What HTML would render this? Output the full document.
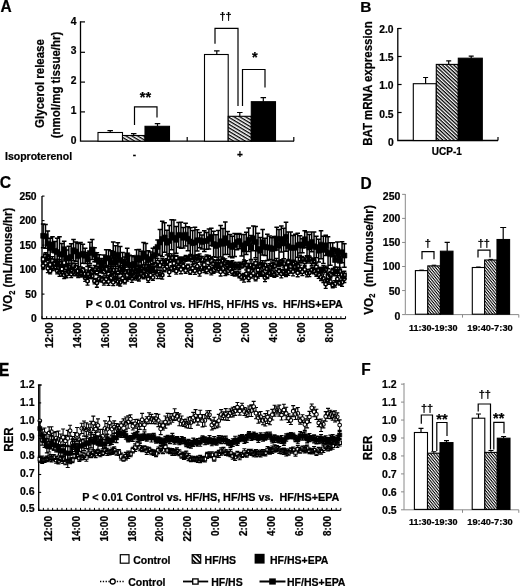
<!DOCTYPE html>
<html lang="en"><head><meta charset="utf-8"><title>Figure</title>
<style>html,body{margin:0;padding:0;background:#fff}svg{display:block;filter:grayscale(1)}text{font-family:"Liberation Sans", Arial, Helvetica, sans-serif;font-weight:bold;fill:#000;stroke:#000;stroke-width:.22px}</style>
</head><body>
<svg width="520" height="586" viewBox="0 0 520 586">
<defs><pattern id="h1" width="4" height="3" patternUnits="userSpaceOnUse" patternTransform="rotate(31)"><rect width="4" height="3" fill="#fff"/><rect width="4" height="1.35" fill="#000"/></pattern><pattern id="h4" width="4" height="3.4" patternUnits="userSpaceOnUse" patternTransform="rotate(45) translate(0 0.6)"><rect width="4" height="3.4" fill="#fff"/><rect width="4" height="1.6" fill="#000"/></pattern><pattern id="h3" width="4" height="2.6" patternUnits="userSpaceOnUse" patternTransform="rotate(43)"><rect width="4" height="2.6" fill="#fff"/><rect width="4" height="1.3" fill="#000"/></pattern><pattern id="h2" width="4" height="2.16" patternUnits="userSpaceOnUse" patternTransform="rotate(51)"><rect width="4" height="2.16" fill="#fff"/><rect width="4" height="1.05" fill="#000"/></pattern></defs>
<rect width="520" height="586" fill="#fff"/>
<text x="0" y="0" font-size="15.5" text-anchor="start" transform="translate(0.6 12) rotate(0) scale(1.0 1.12)">A</text>
<text x="360.3" y="12.2" font-size="15.5" text-anchor="start">B</text>
<text x="0" y="0" font-size="16.3" text-anchor="start" transform="translate(-0.3 188.3) rotate(0) scale(0.97 1.0)">C</text>
<text x="0" y="0" font-size="15.5" text-anchor="start" transform="translate(360.6 188.5) rotate(0) scale(1.0 1.07)">D</text>
<text x="0" y="0" font-size="15.5" text-anchor="start" transform="translate(-1 376.2) rotate(0) scale(1.0 1.14)">E</text>
<text x="0" y="0" font-size="15.5" text-anchor="start" transform="translate(361.3 375.3) rotate(0) scale(1.0 1.07)">F</text>
<path d="M80.5 21.3L80.5 141.2L294 141.2" stroke="#000" stroke-width="1.3" fill="none"/>
<path d="M80.5 111.9L85 111.9" stroke="#000" stroke-width="1.2" fill="none"/>
<path d="M80.5 82.1L85 82.1" stroke="#000" stroke-width="1.2" fill="none"/>
<path d="M80.5 52.3L85 52.3" stroke="#000" stroke-width="1.2" fill="none"/>
<path d="M80.5 21.9L85 21.9" stroke="#000" stroke-width="1.2" fill="none"/>
<text x="0" y="0" font-size="10.0" text-anchor="end" transform="translate(76.5 143.7) rotate(0) scale(1.03 1.0)">0</text>
<text x="0" y="0" font-size="10.0" text-anchor="end" transform="translate(76.5 113.95) rotate(0) scale(1.03 1.0)">1</text>
<text x="0" y="0" font-size="10.0" text-anchor="end" transform="translate(76.5 84.2) rotate(0) scale(1.03 1.0)">2</text>
<text x="0" y="0" font-size="10.0" text-anchor="end" transform="translate(76.5 54.45) rotate(0) scale(1.03 1.0)">3</text>
<text x="0" y="0" font-size="10.0" text-anchor="end" transform="translate(76.5 24.7) rotate(0) scale(1.03 1.0)">4</text>
<path d="M187.2 141.2L187.2 136.9" stroke="#000" stroke-width="1.2" fill="none"/>
<path d="M293.8 141.2L293.8 136.9" stroke="#000" stroke-width="1.2" fill="none"/>
<rect x="98" y="132.5" width="24.5" height="8.7" fill="#fff" stroke="#000" stroke-width="1.1"/>
<path d="M110.2 132.5L110.2 130.7M107.45 130.7L112.95 130.7" stroke="#000" stroke-width="1.2" fill="none"/>
<rect x="122.5" y="135.5" width="22.5" height="5.7" fill="url(#h1)" stroke="#000" stroke-width="1.1"/>
<path d="M133.7 135.5L133.7 133.7M130.95 133.7L136.45 133.7" stroke="#000" stroke-width="1.2" fill="none"/>
<rect x="145" y="126.3" width="24.5" height="14.9" fill="#000" stroke="#000" stroke-width="1.1"/>
<path d="M157.5 126.3L157.5 123.7M154.75 123.7L160.25 123.7" stroke="#000" stroke-width="1.2" fill="none"/>
<path d="M134.5 125L134.5 106.8L157 106.8L157 117.5" stroke="#000" stroke-width="1.2" fill="none"/>
<text x="145.5" y="102" font-size="14.5" text-anchor="middle">**</text>
<rect x="204.5" y="54.5" width="23.7" height="86.7" fill="#fff" stroke="#000" stroke-width="1.1"/>
<path d="M216.8 54.5L216.8 50.8M214.05 50.8L219.55 50.8" stroke="#000" stroke-width="1.2" fill="none"/>
<rect x="228.2" y="116.3" width="23.1" height="24.9" fill="url(#h1)" stroke="#000" stroke-width="1.1"/>
<path d="M239.8 116.3L239.8 112.5M237.05 112.5L242.55 112.5" stroke="#000" stroke-width="1.2" fill="none"/>
<rect x="251.3" y="101.7" width="24.2" height="39.5" fill="#000" stroke="#000" stroke-width="1.1"/>
<path d="M263.3 101.7L263.3 97.7M260.55 97.7L266.05 97.7" stroke="#000" stroke-width="1.2" fill="none"/>
<path d="M215 43.8L215 28.3L238 28.3L238 106" stroke="#000" stroke-width="1.2" fill="none"/>
<path d="M242.5 106L242.5 69.5L265 69.5L265 87.5" stroke="#000" stroke-width="1.2" fill="none"/>
<text x="225.5" y="20.3" font-size="11" text-anchor="middle">††</text>
<text x="254.8" y="62.3" font-size="14.5" text-anchor="middle">*</text>
<text x="134.5" y="158" font-size="10" text-anchor="middle">-</text>
<text x="240" y="157.7" font-size="10" text-anchor="middle">+</text>
<text x="5" y="159.5" font-size="10.5" text-anchor="start">Isoproterenol</text>
<text x="0" y="0" font-size="11.5" text-anchor="middle" transform="translate(44.2 83.5) rotate(-90) scale(1.0 1.17)">Glycerol release</text>
<text x="0" y="0" font-size="11.5" text-anchor="middle" transform="translate(59.6 85) rotate(-90) scale(1.0 1.1)">(nmol/mg tissue/hr)</text>
<path d="M397.8 28L397.8 140.5L498 140.5" stroke="#000" stroke-width="1.3" fill="none"/>
<path d="M397.8 112.5L401.6 112.5" stroke="#000" stroke-width="1.2" fill="none"/>
<path d="M397.8 84.5L401.6 84.5" stroke="#000" stroke-width="1.2" fill="none"/>
<path d="M397.8 56.5L401.6 56.5" stroke="#000" stroke-width="1.2" fill="none"/>
<path d="M397.8 28.5L401.6 28.5" stroke="#000" stroke-width="1.2" fill="none"/>
<text x="0" y="0" font-size="10.0" text-anchor="end" transform="translate(393.6 145.8) rotate(0) scale(1.03 1.0)">0</text>
<text x="0" y="0" font-size="10.0" text-anchor="end" transform="translate(393.6 117.5) rotate(0) scale(1.03 1.0)">0.5</text>
<text x="0" y="0" font-size="10.0" text-anchor="end" transform="translate(393.6 89.4) rotate(0) scale(1.03 1.0)">1.0</text>
<text x="0" y="0" font-size="10.0" text-anchor="end" transform="translate(393.6 61.2) rotate(0) scale(1.03 1.0)">1.5</text>
<text x="0" y="0" font-size="10.0" text-anchor="end" transform="translate(393.6 32.8) rotate(0) scale(1.03 1.0)">2.0</text>
<path d="M498 140.5L498 136.9" stroke="#000" stroke-width="1.2" fill="none"/>
<rect x="413.3" y="83.7" width="23" height="56.8" fill="#fff" stroke="#000" stroke-width="1.1"/>
<path d="M425.6 83.7L425.6 77.5M423.1 77.5L428.1 77.5" stroke="#000" stroke-width="1.2" fill="none"/>
<rect x="436.3" y="64.4" width="22" height="76.1" fill="url(#h3)" stroke="#000" stroke-width="1.1"/>
<path d="M448.7 64.4L448.7 60.8M446.2 60.8L451.2 60.8" stroke="#000" stroke-width="1.2" fill="none"/>
<rect x="458.3" y="58.2" width="24" height="82.3" fill="#000" stroke="#000" stroke-width="1.1"/>
<path d="M471.2 58.2L471.2 56.2M468.7 56.2L473.7 56.2" stroke="#000" stroke-width="1.2" fill="none"/>
<text x="446.8" y="154.8" font-size="10" text-anchor="middle">UCP-1</text>
<text x="0" y="0" font-size="11.5" text-anchor="middle" transform="translate(372 83.6) rotate(-90) scale(1.0 1.1)">BAT mRNA expression</text>
<path d="M42 196L42 318.6L345.55 318.6" stroke="#000" stroke-width="1.3" fill="none"/>
<path d="M42 318.6L44.5 318.6" stroke="#000" stroke-width="1.1" fill="none"/>
<text x="0" y="0" font-size="10.0" text-anchor="end" transform="translate(36.6 322.3) rotate(0) scale(1.03 1.0)">0</text>
<path d="M42 294.1L44.5 294.1" stroke="#000" stroke-width="1.1" fill="none"/>
<text x="0" y="0" font-size="10.0" text-anchor="end" transform="translate(36.6 297.8) rotate(0) scale(1.03 1.0)">50</text>
<path d="M42 269.6L44.5 269.6" stroke="#000" stroke-width="1.1" fill="none"/>
<text x="0" y="0" font-size="10.0" text-anchor="end" transform="translate(36.6 273.3) rotate(0) scale(1.03 1.0)">100</text>
<path d="M42 245.1L44.5 245.1" stroke="#000" stroke-width="1.1" fill="none"/>
<text x="0" y="0" font-size="10.0" text-anchor="end" transform="translate(36.6 248.8) rotate(0) scale(1.03 1.0)">150</text>
<path d="M42 220.6L44.5 220.6" stroke="#000" stroke-width="1.1" fill="none"/>
<text x="0" y="0" font-size="10.0" text-anchor="end" transform="translate(36.6 224.3) rotate(0) scale(1.03 1.0)">200</text>
<path d="M42 196.1L44.5 196.1" stroke="#000" stroke-width="1.1" fill="none"/>
<text x="0" y="0" font-size="10.0" text-anchor="end" transform="translate(36.6 199.8) rotate(0) scale(1.03 1.0)">250</text>
<path d="M42 318.6L42 316.2M46.67 318.6L46.67 316.2M51.34 318.6L51.34 316.2M56.01 318.6L56.01 316.2M60.68 318.6L60.68 316.2M65.35 318.6L65.35 316.2M70.02 318.6L70.02 316.2M74.69 318.6L74.69 316.2M79.36 318.6L79.36 316.2M84.03 318.6L84.03 316.2M88.7 318.6L88.7 316.2M93.37 318.6L93.37 316.2M98.04 318.6L98.04 316.2M102.71 318.6L102.71 316.2M107.38 318.6L107.38 316.2M112.05 318.6L112.05 316.2M116.72 318.6L116.72 316.2M121.39 318.6L121.39 316.2M126.06 318.6L126.06 316.2M130.73 318.6L130.73 316.2M135.4 318.6L135.4 316.2M140.07 318.6L140.07 316.2M144.74 318.6L144.74 316.2M149.41 318.6L149.41 316.2M154.08 318.6L154.08 316.2M158.75 318.6L158.75 316.2M163.42 318.6L163.42 316.2M168.09 318.6L168.09 316.2M172.76 318.6L172.76 316.2M177.43 318.6L177.43 316.2M182.1 318.6L182.1 316.2M186.77 318.6L186.77 316.2M191.44 318.6L191.44 316.2M196.11 318.6L196.11 316.2M200.78 318.6L200.78 316.2M205.45 318.6L205.45 316.2M210.12 318.6L210.12 316.2M214.79 318.6L214.79 316.2M219.46 318.6L219.46 316.2M224.13 318.6L224.13 316.2M228.8 318.6L228.8 316.2M233.47 318.6L233.47 316.2M238.14 318.6L238.14 316.2M242.81 318.6L242.81 316.2M247.48 318.6L247.48 316.2M252.15 318.6L252.15 316.2M256.82 318.6L256.82 316.2M261.49 318.6L261.49 316.2M266.16 318.6L266.16 316.2M270.83 318.6L270.83 316.2M275.5 318.6L275.5 316.2M280.17 318.6L280.17 316.2M284.84 318.6L284.84 316.2M289.51 318.6L289.51 316.2M294.18 318.6L294.18 316.2M298.85 318.6L298.85 316.2M303.52 318.6L303.52 316.2M308.19 318.6L308.19 316.2M312.86 318.6L312.86 316.2M317.53 318.6L317.53 316.2M322.2 318.6L322.2 316.2M326.87 318.6L326.87 316.2M331.54 318.6L331.54 316.2M336.21 318.6L336.21 316.2M340.88 318.6L340.88 316.2M345.55 318.6L345.55 316.2" stroke="#000" stroke-width="1.0" fill="none"/>
<text x="0" y="0" font-size="10" text-anchor="end" transform="translate(53.07 322.5) rotate(-90) scale(1.0 1.0)">12:00</text>
<text x="0" y="0" font-size="10" text-anchor="end" transform="translate(81.09 322.5) rotate(-90) scale(1.0 1.0)">14:00</text>
<text x="0" y="0" font-size="10" text-anchor="end" transform="translate(109.11 322.5) rotate(-90) scale(1.0 1.0)">16:00</text>
<text x="0" y="0" font-size="10" text-anchor="end" transform="translate(137.13 322.5) rotate(-90) scale(1.0 1.0)">18:00</text>
<text x="0" y="0" font-size="10" text-anchor="end" transform="translate(165.15 322.5) rotate(-90) scale(1.0 1.0)">20:00</text>
<text x="0" y="0" font-size="10" text-anchor="end" transform="translate(193.17 322.5) rotate(-90) scale(1.0 1.0)">22:00</text>
<text x="0" y="0" font-size="10" text-anchor="end" transform="translate(221.19 322.5) rotate(-90) scale(1.0 1.0)">0:00</text>
<text x="0" y="0" font-size="10" text-anchor="end" transform="translate(249.21 322.5) rotate(-90) scale(1.0 1.0)">2:00</text>
<text x="0" y="0" font-size="10" text-anchor="end" transform="translate(277.23 322.5) rotate(-90) scale(1.0 1.0)">4:00</text>
<text x="0" y="0" font-size="10" text-anchor="end" transform="translate(305.25 322.5) rotate(-90) scale(1.0 1.0)">6:00</text>
<text x="0" y="0" font-size="10" text-anchor="end" transform="translate(333.27 322.5) rotate(-90) scale(1.0 1.0)">8:00</text>
<text x="0" y="0" font-size="10.2" text-anchor="start" transform="translate(85.8 308) rotate(0) scale(1.058 1.0)" xml:space="preserve">P &lt; 0.01 Control vs. HF/HS, HF/HS vs.  HF/HS+EPA</text>
<text x="0" y="0" font-size="11.5" text-anchor="middle" transform="translate(12.3 259.5) rotate(-90) scale(1.0 1.12)">VO<tspan font-size="7.5" dy="2.2">2</tspan><tspan dy="-2.2"> (mL/mouse/hr)</tspan></text>
<g id="pc">
<path d="M43.17 262.5L43.17 268.76M41.17 262.5L45.17 262.5M41.17 268.76L45.17 268.76M45.5 260.68L45.5 265.85M43.5 260.68L47.5 260.68M43.5 265.85L47.5 265.85M47.84 263.97L47.84 272.57M45.84 263.97L49.84 263.97M45.84 272.57L49.84 272.57M50.17 267.94L50.17 273.9M48.17 267.94L52.17 267.94M48.17 273.9L52.17 273.9M52.51 263.44L52.51 270.57M50.51 263.44L54.51 263.44M50.51 270.57L54.51 270.57M54.84 264.29L54.84 269.92M52.84 264.29L56.84 264.29M52.84 269.92L56.84 269.92M57.18 267.91L57.18 273.91M55.18 267.91L59.18 267.91M55.18 273.91L59.18 273.91M59.51 268.16L59.51 276.46M57.51 268.16L61.51 268.16M57.51 276.46L61.51 276.46M61.85 268.19L61.85 276.02M59.85 268.19L63.85 268.19M59.85 276.02L63.85 276.02M64.18 271.63L64.18 278.72M62.18 271.63L66.18 271.63M62.18 278.72L66.18 278.72M66.52 271.1L66.52 277.73M64.52 271.1L68.52 271.1M64.52 277.73L68.52 277.73M68.85 267.44L68.85 275.05M66.85 267.44L70.85 267.44M66.85 275.05L70.85 275.05M71.19 270.21L71.19 277.68M69.19 270.21L73.19 270.21M69.19 277.68L73.19 277.68M73.52 268.02L73.52 275.89M71.52 268.02L75.52 268.02M71.52 275.89L75.52 275.89M75.86 269.17L75.86 275.77M73.86 269.17L77.86 269.17M73.86 275.77L77.86 275.77M78.19 271.03L78.19 277.49M76.19 271.03L80.19 271.03M76.19 277.49L80.19 277.49M80.53 271.26L80.53 276.98M78.53 271.26L82.53 271.26M78.53 276.98L82.53 276.98M82.86 270.28L82.86 276.75M80.86 270.28L84.86 270.28M80.86 276.75L84.86 276.75M85.2 274.2L85.2 281.47M83.2 274.2L87.2 274.2M83.2 281.47L87.2 281.47M87.53 277.05L87.53 285.05M85.53 277.05L89.53 277.05M85.53 285.05L89.53 285.05M89.87 273.3L89.87 278.37M87.87 273.3L91.87 273.3M87.87 278.37L91.87 278.37M92.2 273.32L92.2 278.73M90.2 273.32L94.2 273.32M90.2 278.73L94.2 278.73M94.54 278.38L94.54 283.78M92.54 278.38L96.54 278.38M92.54 283.78L96.54 283.78M96.87 278.48L96.87 287.25M94.87 278.48L98.87 278.48M94.87 287.25L98.87 287.25M99.21 275.74L99.21 281.6M97.21 275.74L101.21 275.74M97.21 281.6L101.21 281.6M101.54 276.77L101.54 282.15M99.54 276.77L103.54 276.77M99.54 282.15L103.54 282.15M103.88 277.63L103.88 285.22M101.88 277.63L105.88 277.63M101.88 285.22L105.88 285.22M106.21 275.14L106.21 283.06M104.21 275.14L108.21 275.14M104.21 283.06L108.21 283.06M108.55 277.45L108.55 285.47M106.55 277.45L110.55 277.45M106.55 285.47L110.55 285.47M110.88 275.48L110.88 280.4M108.88 275.48L112.88 275.48M108.88 280.4L112.88 280.4M113.22 279.03L113.22 285.61M111.22 279.03L115.22 279.03M111.22 285.61L115.22 285.61M115.55 274.22L115.55 279.93M113.55 274.22L117.55 274.22M113.55 279.93L117.55 279.93M117.89 278.26L117.89 284.98M115.89 278.26L119.89 278.26M115.89 284.98L119.89 284.98M120.22 278.24L120.22 286.17M118.22 278.24L122.22 278.24M118.22 286.17L122.22 286.17M122.56 274.14L122.56 282.14M120.56 274.14L124.56 274.14M120.56 282.14L124.56 282.14M124.89 278.31L124.89 283.79M122.89 278.31L126.89 278.31M122.89 283.79L126.89 283.79M127.23 272.92L127.23 281.02M125.23 272.92L129.23 272.92M125.23 281.02L129.23 281.02M129.56 274.45L129.56 279.31M127.56 274.45L131.56 274.45M127.56 279.31L131.56 279.31M131.9 274.02L131.9 282.31M129.9 274.02L133.9 274.02M129.9 282.31L133.9 282.31M134.23 272.8L134.23 279.95M132.23 272.8L136.23 272.8M132.23 279.95L136.23 279.95M136.57 273.51L136.57 280.14M134.57 273.51L138.57 273.51M134.57 280.14L138.57 280.14M138.9 274.05L138.9 280.98M136.9 274.05L140.9 274.05M136.9 280.98L140.9 280.98M141.24 269.56L141.24 277.56M139.24 269.56L143.24 269.56M139.24 277.56L143.24 277.56M143.57 272.07L143.57 278.95M141.57 272.07L145.57 272.07M141.57 278.95L145.57 278.95M145.91 271.63L145.91 277.53M143.91 271.63L147.91 271.63M143.91 277.53L147.91 277.53M148.24 275.7L148.24 282.28M146.24 275.7L150.24 275.7M146.24 282.28L150.24 282.28M150.58 271.45L150.58 278.38M148.58 271.45L152.58 271.45M148.58 278.38L152.58 278.38M152.91 274.57L152.91 280.41M150.91 274.57L154.91 274.57M150.91 280.41L154.91 280.41M155.25 267.35L155.25 273.92M153.25 267.35L157.25 267.35M153.25 273.92L157.25 273.92M157.58 270.26L157.58 278.65M155.58 270.26L159.58 270.26M155.58 278.65L159.58 278.65M159.92 269.88L159.92 278.55M157.92 269.88L161.92 269.88M157.92 278.55L161.92 278.55M162.25 270.98L162.25 279.11M160.25 270.98L164.25 270.98M160.25 279.11L164.25 279.11M164.59 265.69L164.59 271.76M162.59 265.69L166.59 265.69M162.59 271.76L166.59 271.76M166.92 263.78L166.92 269.9M164.92 263.78L168.92 263.78M164.92 269.9L168.92 269.9M169.26 267.63L169.26 276.32M167.26 267.63L171.26 267.63M167.26 276.32L171.26 276.32M171.59 265.59L171.59 270.91M169.59 265.59L173.59 265.59M169.59 270.91L173.59 270.91M173.93 263.07L173.93 271.55M171.93 263.07L175.93 263.07M171.93 271.55L175.93 271.55M176.26 267.7L176.26 274.2M174.26 267.7L178.26 267.7M174.26 274.2L178.26 274.2M178.6 262.24L178.6 270.46M176.6 262.24L180.6 262.24M176.6 270.46L180.6 270.46M180.93 265.23L180.93 273.74M178.93 265.23L182.93 265.23M178.93 273.74L182.93 273.74M183.27 263.33L183.27 268.77M181.27 263.33L185.27 263.33M181.27 268.77L185.27 268.77M185.6 267.51L185.6 273.47M183.6 267.51L187.6 267.51M183.6 273.47L187.6 273.47M187.94 264.2L187.94 269.06M185.94 264.2L189.94 264.2M185.94 269.06L189.94 269.06M190.27 269.19L190.27 274.41M188.27 269.19L192.27 269.19M188.27 274.41L192.27 274.41M192.61 264.73L192.61 271.56M190.61 264.73L194.61 264.73M190.61 271.56L194.61 271.56M194.94 266.98L194.94 274.32M192.94 266.98L196.94 266.98M192.94 274.32L196.94 274.32M197.28 262.43L197.28 270.2M195.28 262.43L199.28 262.43M195.28 270.2L199.28 270.2M199.61 268.58L199.61 276.06M197.61 268.58L201.61 268.58M197.61 276.06L201.61 276.06M201.95 264.14L201.95 270.72M199.95 264.14L203.95 264.14M199.95 270.72L203.95 270.72M204.28 263.95L204.28 272.61M202.28 263.95L206.28 263.95M202.28 272.61L206.28 272.61M206.62 266.76L206.62 273.57M204.62 266.76L208.62 266.76M204.62 273.57L208.62 273.57M208.95 264.42L208.95 270.82M206.95 264.42L210.95 264.42M206.95 270.82L210.95 270.82M211.29 267.96L211.29 274.87M209.29 267.96L213.29 267.96M209.29 274.87L213.29 274.87M213.62 267.18L213.62 273.28M211.62 267.18L215.62 267.18M211.62 273.28L215.62 273.28M215.96 263.9L215.96 272.04M213.96 263.9L217.96 263.9M213.96 272.04L217.96 272.04M218.29 265.31L218.29 272.2M216.29 265.31L220.29 265.31M216.29 272.2L220.29 272.2M220.63 267.64L220.63 276.01M218.63 267.64L222.63 267.64M218.63 276.01L222.63 276.01M222.96 265.32L222.96 271.56M220.96 265.32L224.96 265.32M220.96 271.56L224.96 271.56M225.3 268.09L225.3 275.61M223.3 268.09L227.3 268.09M223.3 275.61L227.3 275.61M227.63 267.76L227.63 274.71M225.63 267.76L229.63 267.76M225.63 274.71L229.63 274.71M229.97 265.67L229.97 271.53M227.97 265.67L231.97 265.67M227.97 271.53L231.97 271.53M232.3 268.9L232.3 275.23M230.3 268.9L234.3 268.9M230.3 275.23L234.3 275.23M234.64 271.03L234.64 276.14M232.64 271.03L236.64 271.03M232.64 276.14L236.64 276.14M236.97 271.07L236.97 275.92M234.97 271.07L238.97 271.07M234.97 275.92L238.97 275.92M239.31 271.81L239.31 277.77M237.31 271.81L241.31 271.81M237.31 277.77L241.31 277.77M241.64 274.49L241.64 280.09M239.64 274.49L243.64 274.49M239.64 280.09L243.64 280.09M243.98 273.36L243.98 282.03M241.98 273.36L245.98 273.36M241.98 282.03L245.98 282.03M246.31 270.15L246.31 277.28M244.31 270.15L248.31 270.15M244.31 277.28L248.31 277.28M248.65 274.69L248.65 281.52M246.65 274.69L250.65 274.69M246.65 281.52L250.65 281.52M250.98 273.25L250.98 278.15M248.98 273.25L252.98 273.25M248.98 278.15L252.98 278.15M253.32 270.13L253.32 276.3M251.32 270.13L255.32 270.13M251.32 276.3L255.32 276.3M255.65 275.6L255.65 280.88M253.65 275.6L257.65 275.6M253.65 280.88L257.65 280.88M257.99 271.69L257.99 278.07M255.99 271.69L259.99 271.69M255.99 278.07L259.99 278.07M260.32 271.42L260.32 276.41M258.32 271.42L262.32 271.42M258.32 276.41L262.32 276.41M262.66 270.45L262.66 276.31M260.66 270.45L264.66 270.45M260.66 276.31L264.66 276.31M264.99 273.59L264.99 281.63M262.99 273.59L266.99 273.59M262.99 281.63L266.99 281.63M267.33 273.58L267.33 278.58M265.33 273.58L269.33 273.58M265.33 278.58L269.33 278.58M269.66 270.19L269.66 275.19M267.66 270.19L271.66 270.19M267.66 275.19L271.66 275.19M272 268.65L272 276.41M270 268.65L274 268.65M270 276.41L274 276.41M274.33 270.97L274.33 277.35M272.33 270.97L276.33 270.97M272.33 277.35L276.33 277.35M276.67 270.65L276.67 276.33M274.67 270.65L278.67 270.65M274.67 276.33L278.67 276.33M279 268.54L279 273.7M277 268.54L281 268.54M277 273.7L281 273.7M281.34 269.54L281.34 277.89M279.34 269.54L283.34 269.54M279.34 277.89L283.34 277.89M283.67 269.13L283.67 275.28M281.67 269.13L285.67 269.13M281.67 275.28L285.67 275.28M286.01 269.33L286.01 276.65M284.01 269.33L288.01 269.33M284.01 276.65L288.01 276.65M288.34 268.78L288.34 275.36M286.34 268.78L290.34 268.78M286.34 275.36L290.34 275.36M290.68 265.36L290.68 273M288.68 265.36L292.68 265.36M288.68 273L292.68 273M293.01 267.28L293.01 275.78M291.01 267.28L295.01 267.28M291.01 275.78L295.01 275.78M295.35 266.55L295.35 271.96M293.35 266.55L297.35 266.55M293.35 271.96L297.35 271.96M297.68 268.89L297.68 276.75M295.68 268.89L299.68 268.89M295.68 276.75L299.68 276.75M300.02 265.13L300.02 273.61M298.02 265.13L302.02 265.13M298.02 273.61L302.02 273.61M302.35 268.02L302.35 275.61M300.35 268.02L304.35 268.02M300.35 275.61L304.35 275.61M304.69 266.74L304.69 272.44M302.69 266.74L306.69 266.74M302.69 272.44L306.69 272.44M307.02 269.57L307.02 276.95M305.02 269.57L309.02 269.57M305.02 276.95L309.02 276.95M309.36 269.03L309.36 276.65M307.36 269.03L311.36 269.03M307.36 276.65L311.36 276.65M311.69 266.95L311.69 272.78M309.69 266.95L313.69 266.95M309.69 272.78L313.69 272.78M314.03 267.48L314.03 273.96M312.03 267.48L316.03 267.48M312.03 273.96L316.03 273.96M316.36 270.79L316.36 276.41M314.36 270.79L318.36 270.79M314.36 276.41L318.36 276.41M318.7 270.62L318.7 278.46M316.7 270.62L320.7 270.62M316.7 278.46L320.7 278.46M321.03 274.02L321.03 280.48M319.03 274.02L323.03 274.02M319.03 280.48L323.03 280.48M323.37 273.83L323.37 282.52M321.37 273.83L325.37 273.83M321.37 282.52L325.37 282.52M325.7 279.94L325.7 288.28M323.7 279.94L327.7 279.94M323.7 288.28L327.7 288.28M328.04 275.71L328.04 284.25M326.04 275.71L330.04 275.71M326.04 284.25L330.04 284.25M330.37 278.17L330.37 284.3M328.37 278.17L332.37 278.17M328.37 284.3L332.37 284.3M332.71 282.47L332.71 287.76M330.71 282.47L334.71 282.47M330.71 287.76L334.71 287.76M335.04 280.58L335.04 287.11M333.04 280.58L337.04 280.58M333.04 287.11L337.04 287.11M337.38 275.83L337.38 282.09M335.38 275.83L339.38 275.83M335.38 282.09L339.38 282.09M339.71 280.22L339.71 285.18M337.71 280.22L341.71 280.22M337.71 285.18L341.71 285.18M342.05 277.98L342.05 286.38M340.05 277.98L344.05 277.98M340.05 286.38L344.05 286.38M344.38 274.85L344.38 282.52M342.38 274.85L346.38 274.85M342.38 282.52L346.38 282.52" stroke="#000" stroke-width="1.3" fill="none"/>
<path d="M43.17 265.63L45.5 263.26L47.84 268.27L50.17 270.92L52.51 267.01L54.84 267.1L57.18 270.91L59.51 272.31L61.85 272.11L64.18 275.17L66.52 274.42L68.85 271.24L71.19 273.95L73.52 271.95L75.86 272.47L78.19 274.26L80.53 274.12L82.86 273.51L85.2 277.83L87.53 281.05L89.87 275.84L92.2 276.02L94.54 281.08L96.87 282.86L99.21 278.67L101.54 279.46L103.88 281.43L106.21 279.1L108.55 281.46L110.88 277.94L113.22 282.32L115.55 277.08L117.89 281.62L120.22 282.21L122.56 278.14L124.89 281.05L127.23 276.97L129.56 276.88L131.9 278.16L134.23 276.38L136.57 276.82L138.9 277.52L141.24 273.56L143.57 275.51L145.91 274.58L148.24 278.99L150.58 274.92L152.91 277.49L155.25 270.63L157.58 274.45L159.92 274.22L162.25 275.05L164.59 268.73L166.92 266.84L169.26 271.98L171.59 268.25L173.93 267.31L176.26 270.95L178.6 266.35L180.93 269.49L183.27 266.05L185.6 270.49L187.94 266.63L190.27 271.8L192.61 268.14L194.94 270.65L197.28 266.31L199.61 272.32L201.95 267.43L204.28 268.28L206.62 270.16L208.95 267.62L211.29 271.41L213.62 270.23L215.96 267.97L218.29 268.76L220.63 271.82L222.96 268.44L225.3 271.85L227.63 271.24L229.97 268.6L232.3 272.07L234.64 273.59L236.97 273.5L239.31 274.79L241.64 277.29L243.98 277.69L246.31 273.72L248.65 278.11L250.98 275.7L253.32 273.21L255.65 278.24L257.99 274.88L260.32 273.91L262.66 273.38L264.99 277.61L267.33 276.08L269.66 272.69L272 272.53L274.33 274.16L276.67 273.49L279 271.12L281.34 273.71L283.67 272.2L286.01 272.99L288.34 272.07L290.68 269.18L293.01 271.53L295.35 269.26L297.68 272.82L300.02 269.37L302.35 271.82L304.69 269.59L307.02 273.26L309.36 272.84L311.69 269.87L314.03 270.72L316.36 273.6L318.7 274.54L321.03 277.25L323.37 278.18L325.7 284.11L328.04 279.98L330.37 281.23L332.71 285.11L335.04 283.84L337.38 278.96L339.71 282.7L342.05 282.18L344.38 278.69" stroke="#000" stroke-width="0.9" fill="none" stroke-dasharray="1 1.2"/>
<path d="M41.42 265.63a1.75 1.75 0 1 0 3.5 0a1.75 1.75 0 1 0 -3.5 0zM43.75 263.26a1.75 1.75 0 1 0 3.5 0a1.75 1.75 0 1 0 -3.5 0zM46.09 268.27a1.75 1.75 0 1 0 3.5 0a1.75 1.75 0 1 0 -3.5 0zM48.42 270.92a1.75 1.75 0 1 0 3.5 0a1.75 1.75 0 1 0 -3.5 0zM50.76 267.01a1.75 1.75 0 1 0 3.5 0a1.75 1.75 0 1 0 -3.5 0zM53.09 267.1a1.75 1.75 0 1 0 3.5 0a1.75 1.75 0 1 0 -3.5 0zM55.43 270.91a1.75 1.75 0 1 0 3.5 0a1.75 1.75 0 1 0 -3.5 0zM57.76 272.31a1.75 1.75 0 1 0 3.5 0a1.75 1.75 0 1 0 -3.5 0zM60.1 272.11a1.75 1.75 0 1 0 3.5 0a1.75 1.75 0 1 0 -3.5 0zM62.43 275.17a1.75 1.75 0 1 0 3.5 0a1.75 1.75 0 1 0 -3.5 0zM64.77 274.42a1.75 1.75 0 1 0 3.5 0a1.75 1.75 0 1 0 -3.5 0zM67.1 271.24a1.75 1.75 0 1 0 3.5 0a1.75 1.75 0 1 0 -3.5 0zM69.44 273.95a1.75 1.75 0 1 0 3.5 0a1.75 1.75 0 1 0 -3.5 0zM71.77 271.95a1.75 1.75 0 1 0 3.5 0a1.75 1.75 0 1 0 -3.5 0zM74.11 272.47a1.75 1.75 0 1 0 3.5 0a1.75 1.75 0 1 0 -3.5 0zM76.44 274.26a1.75 1.75 0 1 0 3.5 0a1.75 1.75 0 1 0 -3.5 0zM78.78 274.12a1.75 1.75 0 1 0 3.5 0a1.75 1.75 0 1 0 -3.5 0zM81.11 273.51a1.75 1.75 0 1 0 3.5 0a1.75 1.75 0 1 0 -3.5 0zM83.45 277.83a1.75 1.75 0 1 0 3.5 0a1.75 1.75 0 1 0 -3.5 0zM85.78 281.05a1.75 1.75 0 1 0 3.5 0a1.75 1.75 0 1 0 -3.5 0zM88.12 275.84a1.75 1.75 0 1 0 3.5 0a1.75 1.75 0 1 0 -3.5 0zM90.45 276.02a1.75 1.75 0 1 0 3.5 0a1.75 1.75 0 1 0 -3.5 0zM92.79 281.08a1.75 1.75 0 1 0 3.5 0a1.75 1.75 0 1 0 -3.5 0zM95.12 282.86a1.75 1.75 0 1 0 3.5 0a1.75 1.75 0 1 0 -3.5 0zM97.46 278.67a1.75 1.75 0 1 0 3.5 0a1.75 1.75 0 1 0 -3.5 0zM99.79 279.46a1.75 1.75 0 1 0 3.5 0a1.75 1.75 0 1 0 -3.5 0zM102.13 281.43a1.75 1.75 0 1 0 3.5 0a1.75 1.75 0 1 0 -3.5 0zM104.46 279.1a1.75 1.75 0 1 0 3.5 0a1.75 1.75 0 1 0 -3.5 0zM106.8 281.46a1.75 1.75 0 1 0 3.5 0a1.75 1.75 0 1 0 -3.5 0zM109.13 277.94a1.75 1.75 0 1 0 3.5 0a1.75 1.75 0 1 0 -3.5 0zM111.47 282.32a1.75 1.75 0 1 0 3.5 0a1.75 1.75 0 1 0 -3.5 0zM113.8 277.08a1.75 1.75 0 1 0 3.5 0a1.75 1.75 0 1 0 -3.5 0zM116.14 281.62a1.75 1.75 0 1 0 3.5 0a1.75 1.75 0 1 0 -3.5 0zM118.47 282.21a1.75 1.75 0 1 0 3.5 0a1.75 1.75 0 1 0 -3.5 0zM120.81 278.14a1.75 1.75 0 1 0 3.5 0a1.75 1.75 0 1 0 -3.5 0zM123.14 281.05a1.75 1.75 0 1 0 3.5 0a1.75 1.75 0 1 0 -3.5 0zM125.48 276.97a1.75 1.75 0 1 0 3.5 0a1.75 1.75 0 1 0 -3.5 0zM127.81 276.88a1.75 1.75 0 1 0 3.5 0a1.75 1.75 0 1 0 -3.5 0zM130.15 278.16a1.75 1.75 0 1 0 3.5 0a1.75 1.75 0 1 0 -3.5 0zM132.48 276.38a1.75 1.75 0 1 0 3.5 0a1.75 1.75 0 1 0 -3.5 0zM134.82 276.82a1.75 1.75 0 1 0 3.5 0a1.75 1.75 0 1 0 -3.5 0zM137.15 277.52a1.75 1.75 0 1 0 3.5 0a1.75 1.75 0 1 0 -3.5 0zM139.49 273.56a1.75 1.75 0 1 0 3.5 0a1.75 1.75 0 1 0 -3.5 0zM141.82 275.51a1.75 1.75 0 1 0 3.5 0a1.75 1.75 0 1 0 -3.5 0zM144.16 274.58a1.75 1.75 0 1 0 3.5 0a1.75 1.75 0 1 0 -3.5 0zM146.49 278.99a1.75 1.75 0 1 0 3.5 0a1.75 1.75 0 1 0 -3.5 0zM148.83 274.92a1.75 1.75 0 1 0 3.5 0a1.75 1.75 0 1 0 -3.5 0zM151.16 277.49a1.75 1.75 0 1 0 3.5 0a1.75 1.75 0 1 0 -3.5 0zM153.5 270.63a1.75 1.75 0 1 0 3.5 0a1.75 1.75 0 1 0 -3.5 0zM155.83 274.45a1.75 1.75 0 1 0 3.5 0a1.75 1.75 0 1 0 -3.5 0zM158.17 274.22a1.75 1.75 0 1 0 3.5 0a1.75 1.75 0 1 0 -3.5 0zM160.5 275.05a1.75 1.75 0 1 0 3.5 0a1.75 1.75 0 1 0 -3.5 0zM162.84 268.73a1.75 1.75 0 1 0 3.5 0a1.75 1.75 0 1 0 -3.5 0zM165.17 266.84a1.75 1.75 0 1 0 3.5 0a1.75 1.75 0 1 0 -3.5 0zM167.51 271.98a1.75 1.75 0 1 0 3.5 0a1.75 1.75 0 1 0 -3.5 0zM169.84 268.25a1.75 1.75 0 1 0 3.5 0a1.75 1.75 0 1 0 -3.5 0zM172.18 267.31a1.75 1.75 0 1 0 3.5 0a1.75 1.75 0 1 0 -3.5 0zM174.51 270.95a1.75 1.75 0 1 0 3.5 0a1.75 1.75 0 1 0 -3.5 0zM176.85 266.35a1.75 1.75 0 1 0 3.5 0a1.75 1.75 0 1 0 -3.5 0zM179.18 269.49a1.75 1.75 0 1 0 3.5 0a1.75 1.75 0 1 0 -3.5 0zM181.52 266.05a1.75 1.75 0 1 0 3.5 0a1.75 1.75 0 1 0 -3.5 0zM183.85 270.49a1.75 1.75 0 1 0 3.5 0a1.75 1.75 0 1 0 -3.5 0zM186.19 266.63a1.75 1.75 0 1 0 3.5 0a1.75 1.75 0 1 0 -3.5 0zM188.52 271.8a1.75 1.75 0 1 0 3.5 0a1.75 1.75 0 1 0 -3.5 0zM190.86 268.14a1.75 1.75 0 1 0 3.5 0a1.75 1.75 0 1 0 -3.5 0zM193.19 270.65a1.75 1.75 0 1 0 3.5 0a1.75 1.75 0 1 0 -3.5 0zM195.53 266.31a1.75 1.75 0 1 0 3.5 0a1.75 1.75 0 1 0 -3.5 0zM197.86 272.32a1.75 1.75 0 1 0 3.5 0a1.75 1.75 0 1 0 -3.5 0zM200.2 267.43a1.75 1.75 0 1 0 3.5 0a1.75 1.75 0 1 0 -3.5 0zM202.53 268.28a1.75 1.75 0 1 0 3.5 0a1.75 1.75 0 1 0 -3.5 0zM204.87 270.16a1.75 1.75 0 1 0 3.5 0a1.75 1.75 0 1 0 -3.5 0zM207.2 267.62a1.75 1.75 0 1 0 3.5 0a1.75 1.75 0 1 0 -3.5 0zM209.54 271.41a1.75 1.75 0 1 0 3.5 0a1.75 1.75 0 1 0 -3.5 0zM211.87 270.23a1.75 1.75 0 1 0 3.5 0a1.75 1.75 0 1 0 -3.5 0zM214.21 267.97a1.75 1.75 0 1 0 3.5 0a1.75 1.75 0 1 0 -3.5 0zM216.54 268.76a1.75 1.75 0 1 0 3.5 0a1.75 1.75 0 1 0 -3.5 0zM218.88 271.82a1.75 1.75 0 1 0 3.5 0a1.75 1.75 0 1 0 -3.5 0zM221.21 268.44a1.75 1.75 0 1 0 3.5 0a1.75 1.75 0 1 0 -3.5 0zM223.55 271.85a1.75 1.75 0 1 0 3.5 0a1.75 1.75 0 1 0 -3.5 0zM225.88 271.24a1.75 1.75 0 1 0 3.5 0a1.75 1.75 0 1 0 -3.5 0zM228.22 268.6a1.75 1.75 0 1 0 3.5 0a1.75 1.75 0 1 0 -3.5 0zM230.55 272.07a1.75 1.75 0 1 0 3.5 0a1.75 1.75 0 1 0 -3.5 0zM232.89 273.59a1.75 1.75 0 1 0 3.5 0a1.75 1.75 0 1 0 -3.5 0zM235.22 273.5a1.75 1.75 0 1 0 3.5 0a1.75 1.75 0 1 0 -3.5 0zM237.56 274.79a1.75 1.75 0 1 0 3.5 0a1.75 1.75 0 1 0 -3.5 0zM239.89 277.29a1.75 1.75 0 1 0 3.5 0a1.75 1.75 0 1 0 -3.5 0zM242.23 277.69a1.75 1.75 0 1 0 3.5 0a1.75 1.75 0 1 0 -3.5 0zM244.56 273.72a1.75 1.75 0 1 0 3.5 0a1.75 1.75 0 1 0 -3.5 0zM246.9 278.11a1.75 1.75 0 1 0 3.5 0a1.75 1.75 0 1 0 -3.5 0zM249.23 275.7a1.75 1.75 0 1 0 3.5 0a1.75 1.75 0 1 0 -3.5 0zM251.57 273.21a1.75 1.75 0 1 0 3.5 0a1.75 1.75 0 1 0 -3.5 0zM253.9 278.24a1.75 1.75 0 1 0 3.5 0a1.75 1.75 0 1 0 -3.5 0zM256.24 274.88a1.75 1.75 0 1 0 3.5 0a1.75 1.75 0 1 0 -3.5 0zM258.57 273.91a1.75 1.75 0 1 0 3.5 0a1.75 1.75 0 1 0 -3.5 0zM260.91 273.38a1.75 1.75 0 1 0 3.5 0a1.75 1.75 0 1 0 -3.5 0zM263.24 277.61a1.75 1.75 0 1 0 3.5 0a1.75 1.75 0 1 0 -3.5 0zM265.58 276.08a1.75 1.75 0 1 0 3.5 0a1.75 1.75 0 1 0 -3.5 0zM267.91 272.69a1.75 1.75 0 1 0 3.5 0a1.75 1.75 0 1 0 -3.5 0zM270.25 272.53a1.75 1.75 0 1 0 3.5 0a1.75 1.75 0 1 0 -3.5 0zM272.58 274.16a1.75 1.75 0 1 0 3.5 0a1.75 1.75 0 1 0 -3.5 0zM274.92 273.49a1.75 1.75 0 1 0 3.5 0a1.75 1.75 0 1 0 -3.5 0zM277.25 271.12a1.75 1.75 0 1 0 3.5 0a1.75 1.75 0 1 0 -3.5 0zM279.59 273.71a1.75 1.75 0 1 0 3.5 0a1.75 1.75 0 1 0 -3.5 0zM281.92 272.2a1.75 1.75 0 1 0 3.5 0a1.75 1.75 0 1 0 -3.5 0zM284.26 272.99a1.75 1.75 0 1 0 3.5 0a1.75 1.75 0 1 0 -3.5 0zM286.59 272.07a1.75 1.75 0 1 0 3.5 0a1.75 1.75 0 1 0 -3.5 0zM288.93 269.18a1.75 1.75 0 1 0 3.5 0a1.75 1.75 0 1 0 -3.5 0zM291.26 271.53a1.75 1.75 0 1 0 3.5 0a1.75 1.75 0 1 0 -3.5 0zM293.6 269.26a1.75 1.75 0 1 0 3.5 0a1.75 1.75 0 1 0 -3.5 0zM295.93 272.82a1.75 1.75 0 1 0 3.5 0a1.75 1.75 0 1 0 -3.5 0zM298.27 269.37a1.75 1.75 0 1 0 3.5 0a1.75 1.75 0 1 0 -3.5 0zM300.6 271.82a1.75 1.75 0 1 0 3.5 0a1.75 1.75 0 1 0 -3.5 0zM302.94 269.59a1.75 1.75 0 1 0 3.5 0a1.75 1.75 0 1 0 -3.5 0zM305.27 273.26a1.75 1.75 0 1 0 3.5 0a1.75 1.75 0 1 0 -3.5 0zM307.61 272.84a1.75 1.75 0 1 0 3.5 0a1.75 1.75 0 1 0 -3.5 0zM309.94 269.87a1.75 1.75 0 1 0 3.5 0a1.75 1.75 0 1 0 -3.5 0zM312.28 270.72a1.75 1.75 0 1 0 3.5 0a1.75 1.75 0 1 0 -3.5 0zM314.61 273.6a1.75 1.75 0 1 0 3.5 0a1.75 1.75 0 1 0 -3.5 0zM316.95 274.54a1.75 1.75 0 1 0 3.5 0a1.75 1.75 0 1 0 -3.5 0zM319.28 277.25a1.75 1.75 0 1 0 3.5 0a1.75 1.75 0 1 0 -3.5 0zM321.62 278.18a1.75 1.75 0 1 0 3.5 0a1.75 1.75 0 1 0 -3.5 0zM323.95 284.11a1.75 1.75 0 1 0 3.5 0a1.75 1.75 0 1 0 -3.5 0zM326.29 279.98a1.75 1.75 0 1 0 3.5 0a1.75 1.75 0 1 0 -3.5 0zM328.62 281.23a1.75 1.75 0 1 0 3.5 0a1.75 1.75 0 1 0 -3.5 0zM330.96 285.11a1.75 1.75 0 1 0 3.5 0a1.75 1.75 0 1 0 -3.5 0zM333.29 283.84a1.75 1.75 0 1 0 3.5 0a1.75 1.75 0 1 0 -3.5 0zM335.63 278.96a1.75 1.75 0 1 0 3.5 0a1.75 1.75 0 1 0 -3.5 0zM337.96 282.7a1.75 1.75 0 1 0 3.5 0a1.75 1.75 0 1 0 -3.5 0zM340.3 282.18a1.75 1.75 0 1 0 3.5 0a1.75 1.75 0 1 0 -3.5 0zM342.63 278.69a1.75 1.75 0 1 0 3.5 0a1.75 1.75 0 1 0 -3.5 0z" stroke="#000" stroke-width="1.55" fill="#fff"/>
<path d="M43.17 256.71L43.17 261.8M41.17 256.71L45.17 256.71M41.17 261.8L45.17 261.8M45.5 252.56L45.5 259.1M43.5 252.56L47.5 252.56M43.5 259.1L47.5 259.1M47.84 254.6L47.84 260.29M45.84 254.6L49.84 254.6M45.84 260.29L49.84 260.29M50.17 262.07L50.17 267.06M48.17 262.07L52.17 262.07M48.17 267.06L52.17 267.06M52.51 256.7L52.51 264.76M50.51 256.7L54.51 256.7M50.51 264.76L54.51 264.76M54.84 260.89L54.84 265.94M52.84 260.89L56.84 260.89M52.84 265.94L56.84 265.94M57.18 259.13L57.18 266.28M55.18 259.13L59.18 259.13M55.18 266.28L59.18 266.28M59.51 259.53L59.51 266.63M57.51 259.53L61.51 259.53M57.51 266.63L61.51 266.63M61.85 266.32L61.85 271.59M59.85 266.32L63.85 266.32M59.85 271.59L63.85 271.59M64.18 259.02L64.18 266.49M62.18 259.02L66.18 259.02M62.18 266.49L66.18 266.49M66.52 264.46L66.52 271.64M64.52 264.46L68.52 264.46M64.52 271.64L68.52 271.64M68.85 263.29L68.85 270.75M66.85 263.29L70.85 263.29M66.85 270.75L70.85 270.75M71.19 266.92L71.19 272.86M69.19 266.92L73.19 266.92M69.19 272.86L73.19 272.86M73.52 262.91L73.52 268.17M71.52 262.91L75.52 262.91M71.52 268.17L75.52 268.17M75.86 263.36L75.86 271.65M73.86 263.36L77.86 263.36M73.86 271.65L77.86 271.65M78.19 266.82L78.19 275.08M76.19 266.82L80.19 266.82M76.19 275.08L80.19 275.08M80.53 269.84L80.53 275.25M78.53 269.84L82.53 269.84M78.53 275.25L82.53 275.25M82.86 267.6L82.86 273.45M80.86 267.6L84.86 267.6M80.86 273.45L84.86 273.45M85.2 270L85.2 277.56M83.2 270L87.2 270M83.2 277.56L87.2 277.56M87.53 270.07L87.53 277.99M85.53 270.07L89.53 270.07M85.53 277.99L89.53 277.99M89.87 265.27L89.87 272.6M87.87 265.27L91.87 265.27M87.87 272.6L91.87 272.6M92.2 268.77L92.2 273.78M90.2 268.77L94.2 268.77M90.2 273.78L94.2 273.78M94.54 265.49L94.54 273.79M92.54 265.49L96.54 265.49M92.54 273.79L96.54 273.79M96.87 269.53L96.87 274.82M94.87 269.53L98.87 269.53M94.87 274.82L98.87 274.82M99.21 267.02L99.21 272.23M97.21 267.02L101.21 267.02M97.21 272.23L101.21 272.23M101.54 264.32L101.54 272.93M99.54 264.32L103.54 264.32M99.54 272.93L103.54 272.93M103.88 267.45L103.88 276.17M101.88 267.45L105.88 267.45M101.88 276.17L105.88 276.17M106.21 265.32L106.21 273.21M104.21 265.32L108.21 265.32M104.21 273.21L108.21 273.21M108.55 269.59L108.55 278.33M106.55 269.59L110.55 269.59M106.55 278.33L110.55 278.33M110.88 266.37L110.88 273.24M108.88 266.37L112.88 266.37M108.88 273.24L112.88 273.24M113.22 266.31L113.22 273.88M111.22 266.31L115.22 266.31M111.22 273.88L115.22 273.88M115.55 272.04L115.55 278.29M113.55 272.04L117.55 272.04M113.55 278.29L117.55 278.29M117.89 268.66L117.89 277.06M115.89 268.66L119.89 268.66M115.89 277.06L119.89 277.06M120.22 265.35L120.22 272.79M118.22 265.35L122.22 265.35M118.22 272.79L122.22 272.79M122.56 265.85L122.56 273.81M120.56 265.85L124.56 265.85M120.56 273.81L124.56 273.81M124.89 267.23L124.89 275.82M122.89 267.23L126.89 267.23M122.89 275.82L126.89 275.82M127.23 271.22L127.23 279.25M125.23 271.22L129.23 271.22M125.23 279.25L129.23 279.25M129.56 267.76L129.56 274.76M127.56 267.76L131.56 267.76M127.56 274.76L131.56 274.76M131.9 267.36L131.9 275.9M129.9 267.36L133.9 267.36M129.9 275.9L133.9 275.9M134.23 266.27L134.23 272.24M132.23 266.27L136.23 266.27M132.23 272.24L136.23 272.24M136.57 263.8L136.57 272.24M134.57 263.8L138.57 263.8M134.57 272.24L138.57 272.24M138.9 265.5L138.9 273.97M136.9 265.5L140.9 265.5M136.9 273.97L140.9 273.97M141.24 266.74L141.24 272.27M139.24 266.74L143.24 266.74M139.24 272.27L143.24 272.27M143.57 267.67L143.57 274.7M141.57 267.67L145.57 267.67M141.57 274.7L145.57 274.7M145.91 262.83L145.91 269.88M143.91 262.83L147.91 262.83M143.91 269.88L147.91 269.88M148.24 265.34L148.24 273.18M146.24 265.34L150.24 265.34M146.24 273.18L150.24 273.18M150.58 264.36L150.58 271.93M148.58 264.36L152.58 264.36M148.58 271.93L152.58 271.93M152.91 264.39L152.91 272.7M150.91 264.39L154.91 264.39M150.91 272.7L154.91 272.7M155.25 265.93L155.25 271.28M153.25 265.93L157.25 265.93M153.25 271.28L157.25 271.28M157.58 258.4L157.58 265.87M155.58 258.4L159.58 258.4M155.58 265.87L159.58 265.87M159.92 262.73L159.92 268.1M157.92 262.73L161.92 262.73M157.92 268.1L161.92 268.1M162.25 258.62L162.25 265.36M160.25 258.62L164.25 258.62M160.25 265.36L164.25 265.36M164.59 259.15L164.59 265.31M162.59 259.15L166.59 259.15M162.59 265.31L166.59 265.31M166.92 258.62L166.92 265.18M164.92 258.62L168.92 258.62M164.92 265.18L168.92 265.18M169.26 253.59L169.26 262.33M167.26 253.59L171.26 253.59M167.26 262.33L171.26 262.33M171.59 253.83L171.59 261.74M169.59 253.83L173.59 253.83M169.59 261.74L173.59 261.74M173.93 260.41L173.93 266.25M171.93 260.41L175.93 260.41M171.93 266.25L175.93 266.25M176.26 255.32L176.26 260.35M174.26 255.32L178.26 255.32M174.26 260.35L178.26 260.35M178.6 257.51L178.6 265.52M176.6 257.51L180.6 257.51M176.6 265.52L180.6 265.52M180.93 256.89L180.93 263.05M178.93 256.89L182.93 256.89M178.93 263.05L182.93 263.05M183.27 257.38L183.27 263.13M181.27 257.38L185.27 257.38M181.27 263.13L185.27 263.13M185.6 255.45L185.6 261.47M183.6 255.45L187.6 255.45M183.6 261.47L187.6 261.47M187.94 256.09L187.94 260.96M185.94 256.09L189.94 256.09M185.94 260.96L189.94 260.96M190.27 254.28L190.27 260.98M188.27 254.28L192.27 254.28M188.27 260.98L192.27 260.98M192.61 256.01L192.61 264.15M190.61 256.01L194.61 256.01M190.61 264.15L194.61 264.15M194.94 255.16L194.94 263.29M192.94 255.16L196.94 255.16M192.94 263.29L196.94 263.29M197.28 254.74L197.28 260.06M195.28 254.74L199.28 254.74M195.28 260.06L199.28 260.06M199.61 253.78L199.61 261.94M197.61 253.78L201.61 253.78M197.61 261.94L201.61 261.94M201.95 256.29L201.95 262.92M199.95 256.29L203.95 256.29M199.95 262.92L203.95 262.92M204.28 261.23L204.28 268.22M202.28 261.23L206.28 261.23M202.28 268.22L206.28 268.22M206.62 254.79L206.62 261.12M204.62 254.79L208.62 254.79M204.62 261.12L208.62 261.12M208.95 255.28L208.95 261.14M206.95 255.28L210.95 255.28M206.95 261.14L210.95 261.14M211.29 257.72L211.29 263.45M209.29 257.72L213.29 257.72M209.29 263.45L213.29 263.45M213.62 259.62L213.62 267.94M211.62 259.62L215.62 259.62M211.62 267.94L215.62 267.94M215.96 260.38L215.96 267.75M213.96 260.38L217.96 260.38M213.96 267.75L217.96 267.75M218.29 260.21L218.29 268.26M216.29 260.21L220.29 260.21M216.29 268.26L220.29 268.26M220.63 260.56L220.63 268.66M218.63 260.56L222.63 260.56M218.63 268.66L222.63 268.66M222.96 257.87L222.96 262.8M220.96 257.87L224.96 257.87M220.96 262.8L224.96 262.8M225.3 258.91L225.3 266.22M223.3 258.91L227.3 258.91M223.3 266.22L227.3 266.22M227.63 260.66L227.63 268.45M225.63 260.66L229.63 260.66M225.63 268.45L229.63 268.45M229.97 261.66L229.97 267.47M227.97 261.66L231.97 261.66M227.97 267.47L231.97 267.47M232.3 260.69L232.3 269.39M230.3 260.69L234.3 260.69M230.3 269.39L234.3 269.39M234.64 262.05L234.64 269.32M232.64 262.05L236.64 262.05M232.64 269.32L236.64 269.32M236.97 262.95L236.97 268.97M234.97 262.95L238.97 262.95M234.97 268.97L238.97 268.97M239.31 262.18L239.31 269.75M237.31 262.18L241.31 262.18M237.31 269.75L241.31 269.75M241.64 262.78L241.64 268.05M239.64 262.78L243.64 262.78M239.64 268.05L243.64 268.05M243.98 259.8L243.98 266.43M241.98 259.8L245.98 259.8M241.98 266.43L245.98 266.43M246.31 260.62L246.31 269.2M244.31 260.62L248.31 260.62M244.31 269.2L248.31 269.2M248.65 267.59L248.65 272.92M246.65 267.59L250.65 267.59M246.65 272.92L250.65 272.92M250.98 260.87L250.98 269.26M248.98 260.87L252.98 260.87M248.98 269.26L252.98 269.26M253.32 263.64L253.32 269.65M251.32 263.64L255.32 263.64M251.32 269.65L255.32 269.65M255.65 259.51L255.65 267.31M253.65 259.51L257.65 259.51M253.65 267.31L257.65 267.31M257.99 266.91L257.99 272.87M255.99 266.91L259.99 266.91M255.99 272.87L259.99 272.87M260.32 262.47L260.32 268.98M258.32 262.47L262.32 262.47M258.32 268.98L262.32 268.98M262.66 260.57L262.66 269.11M260.66 260.57L264.66 260.57M260.66 269.11L264.66 269.11M264.99 260.82L264.99 269.44M262.99 260.82L266.99 260.82M262.99 269.44L266.99 269.44M267.33 265.37L267.33 272.37M265.33 265.37L269.33 265.37M265.33 272.37L269.33 272.37M269.66 263.56L269.66 270.94M267.66 263.56L271.66 263.56M267.66 270.94L271.66 270.94M272 261.9L272 268.07M270 261.9L274 261.9M270 268.07L274 268.07M274.33 263.07L274.33 269.07M272.33 263.07L276.33 263.07M272.33 269.07L276.33 269.07M276.67 258.39L276.67 266.82M274.67 258.39L278.67 258.39M274.67 266.82L278.67 266.82M279 261.49L279 266.85M277 261.49L281 261.49M277 266.85L281 266.85M281.34 259.62L281.34 265.45M279.34 259.62L283.34 259.62M279.34 265.45L283.34 265.45M283.67 260.22L283.67 267.12M281.67 260.22L285.67 260.22M281.67 267.12L285.67 267.12M286.01 264.88L286.01 270.19M284.01 264.88L288.01 264.88M284.01 270.19L288.01 270.19M288.34 259.45L288.34 265.24M286.34 259.45L290.34 259.45M286.34 265.24L290.34 265.24M290.68 263.99L290.68 268.88M288.68 263.99L292.68 263.99M288.68 268.88L292.68 268.88M293.01 261.74L293.01 266.54M291.01 261.74L295.01 261.74M291.01 266.54L295.01 266.54M295.35 263.77L295.35 269.57M293.35 263.77L297.35 263.77M293.35 269.57L297.35 269.57M297.68 262.3L297.68 269.99M295.68 262.3L299.68 262.3M295.68 269.99L299.68 269.99M300.02 255.22L300.02 263.15M298.02 255.22L302.02 255.22M298.02 263.15L302.02 263.15M302.35 256.45L302.35 262.26M300.35 256.45L304.35 256.45M300.35 262.26L304.35 262.26M304.69 258.21L304.69 265.34M302.69 258.21L306.69 258.21M302.69 265.34L306.69 265.34M307.02 256.41L307.02 263.05M305.02 256.41L309.02 256.41M305.02 263.05L309.02 263.05M309.36 255.92L309.36 261.7M307.36 255.92L311.36 255.92M307.36 261.7L311.36 261.7M311.69 257.88L311.69 265.38M309.69 257.88L313.69 257.88M309.69 265.38L313.69 265.38M314.03 258.65L314.03 263.58M312.03 258.65L316.03 258.65M312.03 263.58L316.03 263.58M316.36 263.02L316.36 270.78M314.36 263.02L318.36 263.02M314.36 270.78L318.36 270.78M318.7 267.19L318.7 272.91M316.7 267.19L320.7 267.19M316.7 272.91L320.7 272.91M321.03 267.64L321.03 273.19M319.03 267.64L323.03 267.64M319.03 273.19L323.03 273.19M323.37 265.71L323.37 272.08M321.37 265.71L325.37 265.71M321.37 272.08L325.37 272.08M325.7 266.09L325.7 272.46M323.7 266.09L327.7 266.09M323.7 272.46L327.7 272.46M328.04 273.49L328.04 279.61M326.04 273.49L330.04 273.49M326.04 279.61L330.04 279.61M330.37 271.37L330.37 277.68M328.37 271.37L332.37 271.37M328.37 277.68L332.37 277.68M332.71 268.34L332.71 274.55M330.71 268.34L334.71 268.34M330.71 274.55L334.71 274.55M335.04 267.65L335.04 275.74M333.04 267.65L337.04 267.65M333.04 275.74L337.04 275.74M337.38 267.21L337.38 275.69M335.38 267.21L339.38 267.21M335.38 275.69L339.38 275.69M339.71 267.32L339.71 275.36M337.71 267.32L341.71 267.32M337.71 275.36L341.71 275.36M342.05 271.71L342.05 277.54M340.05 271.71L344.05 271.71M340.05 277.54L344.05 277.54M344.38 271.26L344.38 278.53M342.38 271.26L346.38 271.26M342.38 278.53L346.38 278.53" stroke="#000" stroke-width="1.3" fill="none"/>
<path d="M43.17 259.26L45.5 255.83L47.84 257.44L50.17 264.57L52.51 260.73L54.84 263.42L57.18 262.71L59.51 263.08L61.85 268.95L64.18 262.75L66.52 268.05L68.85 267.02L71.19 269.89L73.52 265.54L75.86 267.51L78.19 270.95L80.53 272.55L82.86 270.53L85.2 273.78L87.53 274.03L89.87 268.93L92.2 271.27L94.54 269.64L96.87 272.17L99.21 269.62L101.54 268.62L103.88 271.81L106.21 269.27L108.55 273.96L110.88 269.81L113.22 270.1L115.55 275.17L117.89 272.86L120.22 269.07L122.56 269.83L124.89 271.52L127.23 275.23L129.56 271.26L131.9 271.63L134.23 269.26L136.57 268.02L138.9 269.73L141.24 269.5L143.57 271.18L145.91 266.36L148.24 269.26L150.58 268.15L152.91 268.54L155.25 268.61L157.58 262.14L159.92 265.41L162.25 261.99L164.59 262.23L166.92 261.9L169.26 257.96L171.59 257.79L173.93 263.33L176.26 257.84L178.6 261.52L180.93 259.97L183.27 260.26L185.6 258.46L187.94 258.52L190.27 257.63L192.61 260.08L194.94 259.23L197.28 257.4L199.61 257.86L201.95 259.6L204.28 264.72L206.62 257.95L208.95 258.21L211.29 260.59L213.62 263.78L215.96 264.06L218.29 264.24L220.63 264.61L222.96 260.33L225.3 262.56L227.63 264.56L229.97 264.57L232.3 265.04L234.64 265.68L236.97 265.96L239.31 265.96L241.64 265.41L243.98 263.12L246.31 264.91L248.65 270.26L250.98 265.07L253.32 266.65L255.65 263.41L257.99 269.89L260.32 265.73L262.66 264.84L264.99 265.13L267.33 268.87L269.66 267.25L272 264.99L274.33 266.07L276.67 262.6L279 264.17L281.34 262.53L283.67 263.67L286.01 267.53L288.34 262.34L290.68 266.44L293.01 264.14L295.35 266.67L297.68 266.14L300.02 259.18L302.35 259.36L304.69 261.77L307.02 259.73L309.36 258.81L311.69 261.63L314.03 261.12L316.36 266.9L318.7 270.05L321.03 270.41L323.37 268.9L325.7 269.28L328.04 276.55L330.37 274.52L332.71 271.45L335.04 271.69L337.38 271.45L339.71 271.34L342.05 274.62L344.38 274.9" stroke="#000" stroke-width="1.3" fill="none"/>
<path d="M41.47 257.56h3.4v3.4h-3.4zM43.8 254.13h3.4v3.4h-3.4zM46.14 255.74h3.4v3.4h-3.4zM48.47 262.87h3.4v3.4h-3.4zM50.81 259.03h3.4v3.4h-3.4zM53.14 261.72h3.4v3.4h-3.4zM55.48 261.01h3.4v3.4h-3.4zM57.81 261.38h3.4v3.4h-3.4zM60.15 267.25h3.4v3.4h-3.4zM62.48 261.05h3.4v3.4h-3.4zM64.82 266.35h3.4v3.4h-3.4zM67.15 265.32h3.4v3.4h-3.4zM69.49 268.19h3.4v3.4h-3.4zM71.82 263.84h3.4v3.4h-3.4zM74.16 265.81h3.4v3.4h-3.4zM76.49 269.25h3.4v3.4h-3.4zM78.83 270.85h3.4v3.4h-3.4zM81.16 268.83h3.4v3.4h-3.4zM83.5 272.08h3.4v3.4h-3.4zM85.83 272.33h3.4v3.4h-3.4zM88.17 267.23h3.4v3.4h-3.4zM90.5 269.57h3.4v3.4h-3.4zM92.84 267.94h3.4v3.4h-3.4zM95.17 270.47h3.4v3.4h-3.4zM97.51 267.92h3.4v3.4h-3.4zM99.84 266.92h3.4v3.4h-3.4zM102.18 270.11h3.4v3.4h-3.4zM104.51 267.57h3.4v3.4h-3.4zM106.85 272.26h3.4v3.4h-3.4zM109.18 268.11h3.4v3.4h-3.4zM111.52 268.4h3.4v3.4h-3.4zM113.85 273.47h3.4v3.4h-3.4zM116.19 271.16h3.4v3.4h-3.4zM118.52 267.37h3.4v3.4h-3.4zM120.86 268.13h3.4v3.4h-3.4zM123.19 269.82h3.4v3.4h-3.4zM125.53 273.53h3.4v3.4h-3.4zM127.86 269.56h3.4v3.4h-3.4zM130.2 269.93h3.4v3.4h-3.4zM132.53 267.56h3.4v3.4h-3.4zM134.87 266.32h3.4v3.4h-3.4zM137.2 268.03h3.4v3.4h-3.4zM139.54 267.8h3.4v3.4h-3.4zM141.87 269.48h3.4v3.4h-3.4zM144.21 264.66h3.4v3.4h-3.4zM146.54 267.56h3.4v3.4h-3.4zM148.88 266.45h3.4v3.4h-3.4zM151.21 266.84h3.4v3.4h-3.4zM153.55 266.91h3.4v3.4h-3.4zM155.88 260.44h3.4v3.4h-3.4zM158.22 263.71h3.4v3.4h-3.4zM160.55 260.29h3.4v3.4h-3.4zM162.89 260.53h3.4v3.4h-3.4zM165.22 260.2h3.4v3.4h-3.4zM167.56 256.26h3.4v3.4h-3.4zM169.89 256.09h3.4v3.4h-3.4zM172.23 261.63h3.4v3.4h-3.4zM174.56 256.14h3.4v3.4h-3.4zM176.9 259.82h3.4v3.4h-3.4zM179.23 258.27h3.4v3.4h-3.4zM181.57 258.56h3.4v3.4h-3.4zM183.9 256.76h3.4v3.4h-3.4zM186.24 256.82h3.4v3.4h-3.4zM188.57 255.93h3.4v3.4h-3.4zM190.91 258.38h3.4v3.4h-3.4zM193.24 257.53h3.4v3.4h-3.4zM195.58 255.7h3.4v3.4h-3.4zM197.91 256.16h3.4v3.4h-3.4zM200.25 257.9h3.4v3.4h-3.4zM202.58 263.02h3.4v3.4h-3.4zM204.92 256.25h3.4v3.4h-3.4zM207.25 256.51h3.4v3.4h-3.4zM209.59 258.89h3.4v3.4h-3.4zM211.92 262.08h3.4v3.4h-3.4zM214.26 262.36h3.4v3.4h-3.4zM216.59 262.54h3.4v3.4h-3.4zM218.93 262.91h3.4v3.4h-3.4zM221.26 258.63h3.4v3.4h-3.4zM223.6 260.86h3.4v3.4h-3.4zM225.93 262.86h3.4v3.4h-3.4zM228.27 262.87h3.4v3.4h-3.4zM230.6 263.34h3.4v3.4h-3.4zM232.94 263.98h3.4v3.4h-3.4zM235.27 264.26h3.4v3.4h-3.4zM237.61 264.26h3.4v3.4h-3.4zM239.94 263.71h3.4v3.4h-3.4zM242.28 261.42h3.4v3.4h-3.4zM244.61 263.21h3.4v3.4h-3.4zM246.95 268.56h3.4v3.4h-3.4zM249.28 263.37h3.4v3.4h-3.4zM251.62 264.95h3.4v3.4h-3.4zM253.95 261.71h3.4v3.4h-3.4zM256.29 268.19h3.4v3.4h-3.4zM258.62 264.03h3.4v3.4h-3.4zM260.96 263.14h3.4v3.4h-3.4zM263.29 263.43h3.4v3.4h-3.4zM265.63 267.17h3.4v3.4h-3.4zM267.96 265.55h3.4v3.4h-3.4zM270.3 263.29h3.4v3.4h-3.4zM272.63 264.37h3.4v3.4h-3.4zM274.97 260.9h3.4v3.4h-3.4zM277.3 262.47h3.4v3.4h-3.4zM279.64 260.83h3.4v3.4h-3.4zM281.97 261.97h3.4v3.4h-3.4zM284.31 265.83h3.4v3.4h-3.4zM286.64 260.64h3.4v3.4h-3.4zM288.98 264.74h3.4v3.4h-3.4zM291.31 262.44h3.4v3.4h-3.4zM293.65 264.97h3.4v3.4h-3.4zM295.98 264.44h3.4v3.4h-3.4zM298.32 257.48h3.4v3.4h-3.4zM300.65 257.66h3.4v3.4h-3.4zM302.99 260.07h3.4v3.4h-3.4zM305.32 258.03h3.4v3.4h-3.4zM307.66 257.11h3.4v3.4h-3.4zM309.99 259.93h3.4v3.4h-3.4zM312.33 259.42h3.4v3.4h-3.4zM314.66 265.2h3.4v3.4h-3.4zM317 268.35h3.4v3.4h-3.4zM319.33 268.71h3.4v3.4h-3.4zM321.67 267.2h3.4v3.4h-3.4zM324 267.58h3.4v3.4h-3.4zM326.34 274.85h3.4v3.4h-3.4zM328.67 272.82h3.4v3.4h-3.4zM331.01 269.75h3.4v3.4h-3.4zM333.34 269.99h3.4v3.4h-3.4zM335.68 269.75h3.4v3.4h-3.4zM338.01 269.64h3.4v3.4h-3.4zM340.35 272.92h3.4v3.4h-3.4zM342.68 273.2h3.4v3.4h-3.4z" stroke="#000" stroke-width="1.55" fill="#fff"/>
<path d="M43.17 224.01L43.17 247.67M40.87 224.01L45.47 224.01M40.87 247.67L45.47 247.67M45.5 224.49L45.5 248.24M43.2 224.49L47.8 224.49M43.2 248.24L47.8 248.24M47.84 231.01L47.84 256.43M45.54 231.01L50.14 231.01M45.54 256.43L50.14 256.43M50.17 238.19L50.17 258.13M47.87 238.19L52.47 238.19M47.87 258.13L52.47 258.13M52.51 236.71L52.51 252.09M50.21 236.71L54.81 236.71M50.21 252.09L54.81 252.09M54.84 241.59L54.84 259.73M52.54 241.59L57.14 241.59M52.54 259.73L57.14 259.73M57.18 238.36L57.18 265.7M54.88 238.36L59.48 238.36M54.88 265.7L59.48 265.7M59.51 236.76L59.51 271.61M57.21 236.76L61.81 236.76M57.21 271.61L61.81 271.61M61.85 243.49L61.85 265.39M59.55 243.49L64.15 243.49M59.55 265.39L64.15 265.39M64.18 241.2L64.18 257.12M61.88 241.2L66.48 241.2M61.88 257.12L66.48 257.12M66.52 249.89L66.52 265.96M64.22 249.89L68.82 249.89M64.22 265.96L68.82 265.96M68.85 246.34L68.85 270.61M66.55 246.34L71.15 246.34M66.55 270.61L71.15 270.61M71.19 243.77L71.19 269.5M68.89 243.77L73.49 243.77M68.89 269.5L73.49 269.5M73.52 239.44L73.52 260.82M71.22 239.44L75.82 239.44M71.22 260.82L75.82 260.82M75.86 241.89L75.86 261.16M73.56 241.89L78.16 241.89M73.56 261.16L78.16 261.16M78.19 243.49L78.19 269.12M75.89 243.49L80.49 243.49M75.89 269.12L80.49 269.12M80.53 242.51L80.53 266.89M78.23 242.51L82.83 242.51M78.23 266.89L82.83 266.89M82.86 244.37L82.86 263.31M80.56 244.37L85.16 244.37M80.56 263.31L85.16 263.31M85.2 248.22L85.2 263.38M82.9 248.22L87.5 248.22M82.9 263.38L87.5 263.38M87.53 252.6L87.53 266.6M85.23 252.6L89.83 252.6M85.23 266.6L89.83 266.6M89.87 242.18L89.87 263.62M87.57 242.18L92.17 242.18M87.57 263.62L92.17 263.62M92.2 239.54L92.2 259.59M89.9 239.54L94.5 239.54M89.9 259.59L94.5 259.59M94.54 247.76L94.54 261.76M92.24 247.76L96.84 247.76M92.24 261.76L96.84 261.76M96.87 252.7L96.87 266.7M94.57 252.7L99.17 252.7M94.57 266.7L99.17 266.7M99.21 254.73L99.21 268.73M96.91 254.73L101.51 254.73M96.91 268.73L101.51 268.73M101.54 258.38L101.54 272.38M99.24 258.38L103.84 258.38M99.24 272.38L103.84 272.38M103.88 254.95L103.88 268.95M101.58 254.95L106.18 254.95M101.58 268.95L106.18 268.95M106.21 249.82L106.21 266.55M103.91 249.82L108.51 249.82M103.91 266.55L108.51 266.55M108.55 249.84L108.55 266.58M106.25 249.84L110.85 249.84M106.25 266.58L110.85 266.58M110.88 250.7L110.88 274.85M108.58 250.7L113.18 250.7M108.58 274.85L113.18 274.85M113.22 241.97L113.22 265.1M110.92 241.97L115.52 241.97M110.92 265.1L115.52 265.1M115.55 245.76L115.55 279.55M113.25 245.76L117.85 245.76M113.25 279.55L117.85 279.55M117.89 242.74L117.89 266.82M115.59 242.74L120.19 242.74M115.59 266.82L120.19 266.82M120.22 246.58L120.22 273.45M117.92 246.58L122.52 246.58M117.92 273.45L122.52 273.45M122.56 252.46L122.56 270.31M120.26 252.46L124.86 252.46M120.26 270.31L124.86 270.31M124.89 257.09L124.89 271.09M122.59 257.09L127.19 257.09M122.59 271.09L127.19 271.09M127.23 248.28L127.23 262.28M124.93 248.28L129.53 248.28M124.93 262.28L129.53 262.28M129.56 255.14L129.56 274.48M127.26 255.14L131.86 255.14M127.26 274.48L131.86 274.48M131.9 255.68L131.9 274.45M129.6 255.68L134.2 255.68M129.6 274.45L134.2 274.45M134.23 256.85L134.23 270.85M131.93 256.85L136.53 256.85M131.93 270.85L136.53 270.85M136.57 249.87L136.57 265.54M134.27 249.87L138.87 249.87M134.27 265.54L138.87 265.54M138.9 249.58L138.9 270.4M136.6 249.58L141.2 249.58M136.6 270.4L141.2 270.4M141.24 251.2L141.24 265.2M138.94 251.2L143.54 251.2M138.94 265.2L143.54 265.2M143.57 242.39L143.57 264.58M141.27 242.39L145.87 242.39M141.27 264.58L145.87 264.58M145.91 243.39L145.91 270.68M143.61 243.39L148.21 243.39M143.61 270.68L148.21 270.68M148.24 250.87L148.24 269.13M145.94 250.87L150.54 250.87M145.94 269.13L150.54 269.13M150.58 251.9L150.58 265.9M148.28 251.9L152.88 251.9M148.28 265.9L152.88 265.9M152.91 248.2L152.91 263.74M150.61 248.2L155.21 248.2M150.61 263.74L155.21 263.74M155.25 246.93L155.25 262.87M152.95 246.93L157.55 246.93M152.95 262.87L157.55 262.87M157.58 239.88L157.58 253.88M155.28 239.88L159.88 239.88M155.28 253.88L159.88 253.88M159.92 229.55L159.92 255.55M157.62 229.55L162.22 229.55M157.62 255.55L162.22 255.55M162.25 221.29L162.25 256.81M159.95 221.29L164.55 221.29M159.95 256.81L164.55 256.81M164.59 222.78L164.59 252.22M162.29 222.78L166.89 222.78M162.29 252.22L166.89 252.22M166.92 230.27L166.92 255.1M164.62 230.27L169.22 230.27M164.62 255.1L169.22 255.1M169.26 225.44L169.26 256.5M166.96 225.44L171.56 225.44M166.96 256.5L171.56 256.5M171.59 219.76L171.59 249.66M169.29 219.76L173.89 219.76M169.29 249.66L173.89 249.66M173.93 220L173.93 255.56M171.63 220L176.23 220M171.63 255.56L176.23 255.56M176.26 226.39L176.26 253.3M173.96 226.39L178.56 226.39M173.96 253.3L178.56 253.3M178.6 222.47L178.6 247.37M176.3 222.47L180.9 222.47M176.3 247.37L180.9 247.37M180.93 222.32L180.93 248.31M178.63 222.32L183.23 222.32M178.63 248.31L183.23 248.31M183.27 227.57L183.27 248.03M180.97 227.57L185.57 227.57M180.97 248.03L185.57 248.03M185.6 223.35L185.6 246.01M183.3 223.35L187.9 223.35M183.3 246.01L187.9 246.01M187.94 226.81L187.94 250.7M185.64 226.81L190.24 226.81M185.64 250.7L190.24 250.7M190.27 227.73L190.27 255.26M187.97 227.73L192.57 227.73M187.97 255.26L192.57 255.26M192.61 230.39L192.61 255.87M190.31 230.39L194.91 230.39M190.31 255.87L194.91 255.87M194.94 227.35L194.94 257.48M192.64 227.35L197.24 227.35M192.64 257.48L197.24 257.48M197.28 229.64L197.28 251.1M194.98 229.64L199.58 229.64M194.98 251.1L199.58 251.1M199.61 232.56L199.61 247.83M197.31 232.56L201.91 232.56M197.31 247.83L201.91 247.83M201.95 234.91L201.95 248.91M199.65 234.91L204.25 234.91M199.65 248.91L204.25 248.91M204.28 230.72L204.28 251.42M201.98 230.72L206.58 230.72M201.98 251.42L206.58 251.42M206.62 232.6L206.62 249.17M204.32 232.6L208.92 232.6M204.32 249.17L208.92 249.17M208.95 229.05L208.95 249.03M206.65 229.05L211.25 229.05M206.65 249.03L211.25 249.03M211.29 228.21L211.29 245.41M208.99 228.21L213.59 228.21M208.99 245.41L213.59 245.41M213.62 231.16L213.62 256.75M211.32 231.16L215.92 231.16M211.32 256.75L215.92 256.75M215.96 234.7L215.96 257.25M213.66 234.7L218.26 234.7M213.66 257.25L218.26 257.25M218.29 230.39L218.29 259.28M215.99 230.39L220.59 230.39M215.99 259.28L220.59 259.28M220.63 225.46L220.63 257.06M218.33 225.46L222.93 225.46M218.33 257.06L222.93 257.06M222.96 228.38L222.96 259.21M220.66 228.38L225.26 228.38M220.66 259.21L225.26 259.21M225.3 221.94L225.3 254.43M223 221.94L227.6 221.94M223 254.43L227.6 254.43M227.63 231.57L227.63 254.49M225.33 231.57L229.93 231.57M225.33 254.49L229.93 254.49M229.97 234.42L229.97 256.7M227.67 234.42L232.27 234.42M227.67 256.7L232.27 256.7M232.3 236.15L232.3 257.85M230 236.15L234.6 236.15M230 257.85L234.6 257.85M234.64 233.39L234.64 256.51M232.34 233.39L236.94 233.39M232.34 256.51L236.94 256.51M236.97 234.29L236.97 249.75M234.67 234.29L239.27 234.29M234.67 249.75L239.27 249.75M239.31 233.41L239.31 248.83M237.01 233.41L241.61 233.41M237.01 248.83L241.61 248.83M241.64 234.57L241.64 255.96M239.34 234.57L243.94 234.57M239.34 255.96L243.94 255.96M243.98 234.41L243.98 264.53M241.68 234.41L246.28 234.41M241.68 264.53L246.28 264.53M246.31 232.35L246.31 254.48M244.01 232.35L248.61 232.35M244.01 254.48L248.61 254.48M248.65 228.09L248.65 251.4M246.35 228.09L250.95 228.09M246.35 251.4L250.95 251.4M250.98 235.47L250.98 259.54M248.68 235.47L253.28 235.47M248.68 259.54L253.28 259.54M253.32 225.88L253.32 250.75M251.02 225.88L255.62 225.88M251.02 250.75L255.62 250.75M255.65 226.39L255.65 257.68M253.35 226.39L257.95 226.39M253.35 257.68L257.95 257.68M257.99 233.32L257.99 264.9M255.69 233.32L260.29 233.32M255.69 264.9L260.29 264.9M260.32 237.51L260.32 264.22M258.02 237.51L262.62 237.51M258.02 264.22L262.62 264.22M262.66 229.38L262.66 254.92M260.36 229.38L264.96 229.38M260.36 254.92L264.96 254.92M264.99 238.28L264.99 255.59M262.69 238.28L267.29 238.28M262.69 255.59L267.29 255.59M267.33 234.22L267.33 260.56M265.03 234.22L269.63 234.22M265.03 260.56L269.63 260.56M269.66 235.89L269.66 259.4M267.36 235.89L271.96 235.89M267.36 259.4L271.96 259.4M272 237.87L272 259.95M269.7 237.87L274.3 237.87M269.7 259.95L274.3 259.95M274.33 236.6L274.33 260.24M272.03 236.6L276.63 236.6M272.03 260.24L276.63 260.24M276.67 227.21L276.67 250.11M274.37 227.21L278.97 227.21M274.37 250.11L278.97 250.11M279 229.45L279 262.17M276.7 229.45L281.3 229.45M276.7 262.17L281.3 262.17M281.34 225.98L281.34 252.08M279.04 225.98L283.64 225.98M279.04 252.08L283.64 252.08M283.67 228.24L283.67 258.72M281.37 228.24L285.97 228.24M281.37 258.72L285.97 258.72M286.01 222.29L286.01 251.35M283.71 222.29L288.31 222.29M283.71 251.35L288.31 251.35M288.34 232.08L288.34 260.38M286.04 232.08L290.64 232.08M286.04 260.38L290.64 260.38M290.68 232.03L290.68 263.63M288.38 232.03L292.98 232.03M288.38 263.63L292.98 263.63M293.01 235.41L293.01 260.22M290.71 235.41L295.31 235.41M290.71 260.22L295.31 260.22M295.35 234.34L295.35 261.13M293.05 234.34L297.65 234.34M293.05 261.13L297.65 261.13M297.68 233.15L297.68 257.24M295.38 233.15L299.98 233.15M295.38 257.24L299.98 257.24M300.02 235.8L300.02 253.1M297.72 235.8L302.32 235.8M297.72 253.1L302.32 253.1M302.35 238.73L302.35 252.73M300.05 238.73L304.65 238.73M300.05 252.73L304.65 252.73M304.69 230.74L304.69 247.7M302.39 230.74L306.99 230.74M302.39 247.7L306.99 247.7M307.02 232.03L307.02 255.63M304.72 232.03L309.32 232.03M304.72 255.63L309.32 255.63M309.36 234.4L309.36 260.66M307.06 234.4L311.66 234.4M307.06 260.66L311.66 260.66M311.69 232.08L311.69 251.82M309.39 232.08L313.99 232.08M309.39 251.82L313.99 251.82M314.03 232.11L314.03 260.59M311.73 232.11L316.33 232.11M311.73 260.59L316.33 260.59M316.36 236.21L316.36 257.73M314.06 236.21L318.66 236.21M314.06 257.73L318.66 257.73M318.7 239.26L318.7 262.02M316.4 239.26L321 239.26M316.4 262.02L321 262.02M321.03 230.7L321.03 258.65M318.73 230.7L323.33 230.7M318.73 258.65L323.33 258.65M323.37 236.34L323.37 263.55M321.07 236.34L325.67 236.34M321.07 263.55L325.67 263.55M325.7 235.17L325.7 255.49M323.4 235.17L328 235.17M323.4 255.49L328 255.49M328.04 236.83L328.04 268.66M325.74 236.83L330.34 236.83M325.74 268.66L330.34 268.66M330.37 242.76L330.37 265.37M328.07 242.76L332.67 242.76M328.07 265.37L332.67 265.37M332.71 242.69L332.71 256.82M330.41 242.69L335.01 242.69M330.41 256.82L335.01 256.82M335.04 252.99L335.04 266.99M332.74 252.99L337.34 252.99M332.74 266.99L337.34 266.99M337.38 242.02L337.38 259.71M335.08 242.02L339.68 242.02M335.08 259.71L339.68 259.71M339.71 252.22L339.71 269.34M337.41 252.22L342.01 252.22M337.41 269.34L342.01 269.34M342.05 241.64L342.05 262.82M339.75 241.64L344.35 241.64M339.75 262.82L344.35 262.82M344.38 243.8L344.38 267.32M342.08 243.8L346.68 243.8M342.08 267.32L346.68 267.32" stroke="#000" stroke-width="1.5" fill="none"/>
<path d="M43.17 235.84L45.5 236.37L47.84 243.72L50.17 248.16L52.51 244.4L54.84 250.66L57.18 252.03L59.51 254.19L61.85 254.44L64.18 249.16L66.52 257.92L68.85 258.48L71.19 256.64L73.52 250.13L75.86 251.52L78.19 256.3L80.53 254.7L82.86 253.84L85.2 255.8L87.53 259.6L89.87 252.9L92.2 249.57L94.54 254.76L96.87 259.7L99.21 261.73L101.54 265.38L103.88 261.95L106.21 258.19L108.55 258.21L110.88 262.77L113.22 253.54L115.55 262.65L117.89 254.78L120.22 260.02L122.56 261.38L124.89 264.09L127.23 255.28L129.56 264.81L131.9 265.06L134.23 263.85L136.57 257.71L138.9 259.99L141.24 258.2L143.57 253.48L145.91 257.03L148.24 260L150.58 258.9L152.91 255.97L155.25 254.9L157.58 246.88L159.92 242.55L162.25 239.05L164.59 237.5L166.92 242.68L169.26 240.97L171.59 234.71L173.93 237.78L176.26 239.84L178.6 234.92L180.93 235.31L183.27 237.8L185.6 234.68L187.94 238.76L190.27 241.49L192.61 243.13L194.94 242.42L197.28 240.37L199.61 240.19L201.95 241.91L204.28 241.07L206.62 240.89L208.95 239.04L211.29 236.81L213.62 243.95L215.96 245.97L218.29 244.84L220.63 241.26L222.96 243.8L225.3 238.18L227.63 243.03L229.97 245.56L232.3 247L234.64 244.95L236.97 242.02L239.31 241.12L241.64 245.26L243.98 249.47L246.31 243.41L248.65 239.75L250.98 247.51L253.32 238.31L255.65 242.04L257.99 249.11L260.32 250.87L262.66 242.15L264.99 246.93L267.33 247.39L269.66 247.65L272 248.91L274.33 248.42L276.67 238.66L279 245.81L281.34 239.03L283.67 243.48L286.01 236.82L288.34 246.23L290.68 247.83L293.01 247.81L295.35 247.74L297.68 245.19L300.02 244.45L302.35 245.73L304.69 239.22L307.02 243.83L309.36 247.53L311.69 241.95L314.03 246.35L316.36 246.97L318.7 250.64L321.03 244.67L323.37 249.95L325.7 245.33L328.04 252.74L330.37 254.07L332.71 249.75L335.04 259.99L337.38 250.87L339.71 260.78L342.05 252.23L344.38 255.56" stroke="#000" stroke-width="2.0" fill="none"/>
<path d="M40.67 233.34h5v5h-5zM43 233.87h5v5h-5zM45.34 241.22h5v5h-5zM47.67 245.66h5v5h-5zM50.01 241.9h5v5h-5zM52.34 248.16h5v5h-5zM54.68 249.53h5v5h-5zM57.01 251.69h5v5h-5zM59.35 251.94h5v5h-5zM61.68 246.66h5v5h-5zM64.02 255.42h5v5h-5zM66.35 255.98h5v5h-5zM68.69 254.14h5v5h-5zM71.02 247.63h5v5h-5zM73.36 249.02h5v5h-5zM75.69 253.8h5v5h-5zM78.03 252.2h5v5h-5zM80.36 251.34h5v5h-5zM82.7 253.3h5v5h-5zM85.03 257.1h5v5h-5zM87.37 250.4h5v5h-5zM89.7 247.07h5v5h-5zM92.04 252.26h5v5h-5zM94.37 257.2h5v5h-5zM96.71 259.23h5v5h-5zM99.04 262.88h5v5h-5zM101.38 259.45h5v5h-5zM103.71 255.69h5v5h-5zM106.05 255.71h5v5h-5zM108.38 260.27h5v5h-5zM110.72 251.04h5v5h-5zM113.05 260.15h5v5h-5zM115.39 252.28h5v5h-5zM117.72 257.52h5v5h-5zM120.06 258.88h5v5h-5zM122.39 261.59h5v5h-5zM124.73 252.78h5v5h-5zM127.06 262.31h5v5h-5zM129.4 262.56h5v5h-5zM131.73 261.35h5v5h-5zM134.07 255.21h5v5h-5zM136.4 257.49h5v5h-5zM138.74 255.7h5v5h-5zM141.07 250.98h5v5h-5zM143.41 254.53h5v5h-5zM145.74 257.5h5v5h-5zM148.08 256.4h5v5h-5zM150.41 253.47h5v5h-5zM152.75 252.4h5v5h-5zM155.08 244.38h5v5h-5zM157.42 240.05h5v5h-5zM159.75 236.55h5v5h-5zM162.09 235h5v5h-5zM164.42 240.18h5v5h-5zM166.76 238.47h5v5h-5zM169.09 232.21h5v5h-5zM171.43 235.28h5v5h-5zM173.76 237.34h5v5h-5zM176.1 232.42h5v5h-5zM178.43 232.81h5v5h-5zM180.77 235.3h5v5h-5zM183.1 232.18h5v5h-5zM185.44 236.26h5v5h-5zM187.77 238.99h5v5h-5zM190.11 240.63h5v5h-5zM192.44 239.92h5v5h-5zM194.78 237.87h5v5h-5zM197.11 237.69h5v5h-5zM199.45 239.41h5v5h-5zM201.78 238.57h5v5h-5zM204.12 238.39h5v5h-5zM206.45 236.54h5v5h-5zM208.79 234.31h5v5h-5zM211.12 241.45h5v5h-5zM213.46 243.47h5v5h-5zM215.79 242.34h5v5h-5zM218.13 238.76h5v5h-5zM220.46 241.3h5v5h-5zM222.8 235.68h5v5h-5zM225.13 240.53h5v5h-5zM227.47 243.06h5v5h-5zM229.8 244.5h5v5h-5zM232.14 242.45h5v5h-5zM234.47 239.52h5v5h-5zM236.81 238.62h5v5h-5zM239.14 242.76h5v5h-5zM241.48 246.97h5v5h-5zM243.81 240.91h5v5h-5zM246.15 237.25h5v5h-5zM248.48 245.01h5v5h-5zM250.82 235.81h5v5h-5zM253.15 239.54h5v5h-5zM255.49 246.61h5v5h-5zM257.82 248.37h5v5h-5zM260.16 239.65h5v5h-5zM262.49 244.43h5v5h-5zM264.83 244.89h5v5h-5zM267.16 245.15h5v5h-5zM269.5 246.41h5v5h-5zM271.83 245.92h5v5h-5zM274.17 236.16h5v5h-5zM276.5 243.31h5v5h-5zM278.84 236.53h5v5h-5zM281.17 240.98h5v5h-5zM283.51 234.32h5v5h-5zM285.84 243.73h5v5h-5zM288.18 245.33h5v5h-5zM290.51 245.31h5v5h-5zM292.85 245.24h5v5h-5zM295.18 242.69h5v5h-5zM297.52 241.95h5v5h-5zM299.85 243.23h5v5h-5zM302.19 236.72h5v5h-5zM304.52 241.33h5v5h-5zM306.86 245.03h5v5h-5zM309.19 239.45h5v5h-5zM311.53 243.85h5v5h-5zM313.86 244.47h5v5h-5zM316.2 248.14h5v5h-5zM318.53 242.17h5v5h-5zM320.87 247.45h5v5h-5zM323.2 242.83h5v5h-5zM325.54 250.24h5v5h-5zM327.87 251.57h5v5h-5zM330.21 247.25h5v5h-5zM332.54 257.49h5v5h-5zM334.88 248.37h5v5h-5zM337.21 258.28h5v5h-5zM339.55 249.73h5v5h-5zM341.88 253.06h5v5h-5z" stroke="#000" stroke-width="0.6" fill="#000"/>
</g>
<path d="M405.3 194L405.3 314.6L518.8 314.6L518.8 317.6" stroke="#8a8a8a" stroke-width="1.0" fill="none"/>
<path d="M402.1 314.6L405.3 314.6" stroke="#8a8a8a" stroke-width="1.0" fill="none"/>
<text x="400.4" y="320.25" font-size="10.5" text-anchor="end">0</text>
<path d="M402.1 290.55L405.3 290.55" stroke="#8a8a8a" stroke-width="1.0" fill="none"/>
<text x="400.4" y="295.35" font-size="10.5" text-anchor="end">50</text>
<path d="M402.1 266.5L405.3 266.5" stroke="#8a8a8a" stroke-width="1.0" fill="none"/>
<text x="400.4" y="269.75" font-size="10.5" text-anchor="end">100</text>
<path d="M402.1 242.45L405.3 242.45" stroke="#8a8a8a" stroke-width="1.0" fill="none"/>
<text x="400.4" y="246.05" font-size="10.5" text-anchor="end">150</text>
<path d="M402.1 218.4L405.3 218.4" stroke="#8a8a8a" stroke-width="1.0" fill="none"/>
<text x="400.4" y="222.45" font-size="10.5" text-anchor="end">200</text>
<path d="M402.1 194.35L405.3 194.35" stroke="#8a8a8a" stroke-width="1.0" fill="none"/>
<text x="400.4" y="199.55" font-size="10.5" text-anchor="end">250</text>
<path d="M462.5 314.6L462.5 317.6" stroke="#8a8a8a" stroke-width="1.0" fill="none"/>
<rect x="415.4" y="270.6" width="12.4" height="43.6" fill="#fff" stroke="#000" stroke-width="1.1"/>
<path d="M421.6 270.6L421.6 270.1M419.35 270.1L423.85 270.1" stroke="#000" stroke-width="1" fill="none"/>
<rect x="427.8" y="265.9" width="12.6" height="48.3" fill="url(#h2)" stroke="#000" stroke-width="1.1"/>
<path d="M434 265.9L434 265.2M431.75 265.2L436.25 265.2" stroke="#000" stroke-width="1" fill="none"/>
<rect x="440.4" y="251.2" width="12.6" height="63" fill="#000" stroke="#000" stroke-width="1.1"/>
<path d="M447.2 251.2L447.2 242.3M444.6 242.3L449.8 242.3" stroke="#000" stroke-width="1.2" fill="none"/>
<rect x="472.3" y="267.5" width="12.3" height="46.7" fill="#fff" stroke="#000" stroke-width="1.1"/>
<path d="M478.4 267.5L478.4 267M476.15 267L480.65 267" stroke="#000" stroke-width="1" fill="none"/>
<rect x="484.6" y="260" width="12.4" height="54.2" fill="url(#h2)" stroke="#000" stroke-width="1.1"/>
<path d="M490.8 260L490.8 259.4M488.55 259.4L493.05 259.4" stroke="#000" stroke-width="1" fill="none"/>
<rect x="497" y="239.5" width="12.6" height="74.7" fill="#000" stroke="#000" stroke-width="1.1"/>
<path d="M503.2 239.5L503.2 227.5M500.2 227.5L506.2 227.5" stroke="#000" stroke-width="1.2" fill="none"/>
<path d="M422 259.3L422 251.6L434 251.6L434 259.3" stroke="#000" stroke-width="1.2" fill="none"/>
<path d="M478 257.6L478 250.2L490 250.2L490 257.6" stroke="#000" stroke-width="1.2" fill="none"/>
<text x="427.8" y="247.3" font-size="11" text-anchor="middle">†</text>
<text x="483.8" y="247.3" font-size="11" text-anchor="middle">††</text>
<text x="433.2" y="331" font-size="9" text-anchor="middle">11:30-19:30</text>
<text x="490" y="331" font-size="9.3" text-anchor="middle">19:40-7:30</text>
<text x="0" y="0" font-size="11.8" text-anchor="middle" transform="translate(373 260) rotate(-90) scale(1.0 1.1)" xml:space="preserve">VO<tspan font-size="7.5" dy="2.2">2</tspan><tspan dy="-2.2">  (mL/mouse/hr)</tspan></text>
<path d="M38.7 384.5L38.7 510.3L340.82 510.3" stroke="#000" stroke-width="1.3" fill="none"/>
<path d="M38.7 510.3L41.2 510.3" stroke="#000" stroke-width="1.1" fill="none"/>
<text x="0" y="0" font-size="10.3" text-anchor="end" transform="translate(34.6 511.6) rotate(0) scale(1.02 1.0)">0.5</text>
<path d="M38.7 492.4L41.2 492.4" stroke="#000" stroke-width="1.1" fill="none"/>
<text x="0" y="0" font-size="10.3" text-anchor="end" transform="translate(34.6 495.1) rotate(0) scale(1.02 1.0)">0.6</text>
<path d="M38.7 474.5L41.2 474.5" stroke="#000" stroke-width="1.1" fill="none"/>
<text x="0" y="0" font-size="10.3" text-anchor="end" transform="translate(34.6 477.2) rotate(0) scale(1.02 1.0)">0.7</text>
<path d="M38.7 456.6L41.2 456.6" stroke="#000" stroke-width="1.1" fill="none"/>
<text x="0" y="0" font-size="10.3" text-anchor="end" transform="translate(34.6 459.3) rotate(0) scale(1.02 1.0)">0.8</text>
<path d="M38.7 438.7L41.2 438.7" stroke="#000" stroke-width="1.1" fill="none"/>
<text x="0" y="0" font-size="10.3" text-anchor="end" transform="translate(34.6 441.4) rotate(0) scale(1.02 1.0)">0.9</text>
<path d="M38.7 420.8L41.2 420.8" stroke="#000" stroke-width="1.1" fill="none"/>
<text x="0" y="0" font-size="10.3" text-anchor="end" transform="translate(34.6 423.5) rotate(0) scale(1.02 1.0)">1.0</text>
<path d="M38.7 402.9L41.2 402.9" stroke="#000" stroke-width="1.1" fill="none"/>
<text x="0" y="0" font-size="10.3" text-anchor="end" transform="translate(34.6 405.6) rotate(0) scale(1.02 1.0)">1.1</text>
<path d="M38.7 385L41.2 385" stroke="#000" stroke-width="1.1" fill="none"/>
<text x="0" y="0" font-size="10.3" text-anchor="end" transform="translate(34.6 387.7) rotate(0) scale(1.02 1.0)">1.2</text>
<path d="M38.7 510.3L38.7 507.9M43.35 510.3L43.35 507.9M48 510.3L48 507.9M52.64 510.3L52.64 507.9M57.29 510.3L57.29 507.9M61.94 510.3L61.94 507.9M66.59 510.3L66.59 507.9M71.24 510.3L71.24 507.9M75.88 510.3L75.88 507.9M80.53 510.3L80.53 507.9M85.18 510.3L85.18 507.9M89.83 510.3L89.83 507.9M94.48 510.3L94.48 507.9M99.12 510.3L99.12 507.9M103.77 510.3L103.77 507.9M108.42 510.3L108.42 507.9M113.07 510.3L113.07 507.9M117.72 510.3L117.72 507.9M122.36 510.3L122.36 507.9M127.01 510.3L127.01 507.9M131.66 510.3L131.66 507.9M136.31 510.3L136.31 507.9M140.96 510.3L140.96 507.9M145.6 510.3L145.6 507.9M150.25 510.3L150.25 507.9M154.9 510.3L154.9 507.9M159.55 510.3L159.55 507.9M164.2 510.3L164.2 507.9M168.84 510.3L168.84 507.9M173.49 510.3L173.49 507.9M178.14 510.3L178.14 507.9M182.79 510.3L182.79 507.9M187.44 510.3L187.44 507.9M192.08 510.3L192.08 507.9M196.73 510.3L196.73 507.9M201.38 510.3L201.38 507.9M206.03 510.3L206.03 507.9M210.68 510.3L210.68 507.9M215.32 510.3L215.32 507.9M219.97 510.3L219.97 507.9M224.62 510.3L224.62 507.9M229.27 510.3L229.27 507.9M233.92 510.3L233.92 507.9M238.56 510.3L238.56 507.9M243.21 510.3L243.21 507.9M247.86 510.3L247.86 507.9M252.51 510.3L252.51 507.9M257.16 510.3L257.16 507.9M261.8 510.3L261.8 507.9M266.45 510.3L266.45 507.9M271.1 510.3L271.1 507.9M275.75 510.3L275.75 507.9M280.4 510.3L280.4 507.9M285.04 510.3L285.04 507.9M289.69 510.3L289.69 507.9M294.34 510.3L294.34 507.9M298.99 510.3L298.99 507.9M303.64 510.3L303.64 507.9M308.28 510.3L308.28 507.9M312.93 510.3L312.93 507.9M317.58 510.3L317.58 507.9M322.23 510.3L322.23 507.9M326.88 510.3L326.88 507.9M331.52 510.3L331.52 507.9M336.17 510.3L336.17 507.9M340.82 510.3L340.82 507.9" stroke="#000" stroke-width="1.0" fill="none"/>
<text x="0" y="0" font-size="10" text-anchor="end" transform="translate(51.83 516) rotate(-90) scale(1.0 1.0)">12:00</text>
<text x="0" y="0" font-size="10" text-anchor="end" transform="translate(79.72 516) rotate(-90) scale(1.0 1.0)">14:00</text>
<text x="0" y="0" font-size="10" text-anchor="end" transform="translate(107.61 516) rotate(-90) scale(1.0 1.0)">16:00</text>
<text x="0" y="0" font-size="10" text-anchor="end" transform="translate(135.5 516) rotate(-90) scale(1.0 1.0)">18:00</text>
<text x="0" y="0" font-size="10" text-anchor="end" transform="translate(163.39 516) rotate(-90) scale(1.0 1.0)">20:00</text>
<text x="0" y="0" font-size="10" text-anchor="end" transform="translate(191.27 516) rotate(-90) scale(1.0 1.0)">22:00</text>
<text x="0" y="0" font-size="10" text-anchor="end" transform="translate(219.16 516) rotate(-90) scale(1.0 1.0)">0:00</text>
<text x="0" y="0" font-size="10" text-anchor="end" transform="translate(247.05 516) rotate(-90) scale(1.0 1.0)">2:00</text>
<text x="0" y="0" font-size="10" text-anchor="end" transform="translate(274.94 516) rotate(-90) scale(1.0 1.0)">4:00</text>
<text x="0" y="0" font-size="10" text-anchor="end" transform="translate(302.83 516) rotate(-90) scale(1.0 1.0)">6:00</text>
<text x="0" y="0" font-size="10" text-anchor="end" transform="translate(330.71 516) rotate(-90) scale(1.0 1.0)">8:00</text>
<text x="0" y="0" font-size="10.2" text-anchor="start" transform="translate(82.3 500.8) rotate(0) scale(1.058 1.0)" xml:space="preserve">P &lt; 0.01 Control vs. HF/HS, HF/HS vs.  HF/HS+EPA</text>
<text x="0" y="0" font-size="11.6" text-anchor="middle" transform="translate(12.6 439.6) rotate(-90) scale(1.0 1.04)">RER</text>
<g id="pe">
<path d="M39.86 385L39.86 456.6M37.86 385L41.86 385M37.86 456.6L41.86 456.6M42.19 435.55L42.19 445.12M40.19 435.55L44.19 435.55M40.19 445.12L44.19 445.12M44.51 428.01L44.51 439.45M42.51 428.01L46.51 428.01M42.51 439.45L46.51 439.45M46.83 432.81L46.83 448.29M44.83 432.81L48.83 432.81M44.83 448.29L48.83 448.29M49.16 426.84L49.16 439.21M47.16 426.84L51.16 426.84M47.16 439.21L51.16 439.21M51.48 426.78L51.48 436.69M49.48 426.78L53.48 426.78M49.48 436.69L53.48 436.69M53.81 432.63L53.81 450.17M51.81 432.63L55.81 432.63M51.81 450.17L55.81 450.17M56.13 431.61L56.13 444.68M54.13 431.61L58.13 431.61M54.13 444.68L58.13 444.68M58.45 430.95L58.45 447.33M56.45 430.95L60.45 430.95M56.45 447.33L60.45 447.33M60.78 434.02L60.78 446.47M58.78 434.02L62.78 434.02M58.78 446.47L62.78 446.47M63.1 429.03L63.1 445.72M61.1 429.03L65.1 429.03M61.1 445.72L65.1 445.72M65.43 435.33L65.43 446.62M63.43 435.33L67.43 435.33M63.43 446.62L67.43 446.62M67.75 430.34L67.75 446.48M65.75 430.34L69.75 430.34M65.75 446.48L69.75 446.48M70.07 425.22L70.07 436.16M68.07 425.22L72.07 425.22M68.07 436.16L72.07 436.16M72.4 436.44L72.4 449.52M70.4 436.44L74.4 436.44M70.4 449.52L74.4 449.52M74.72 432.5L74.72 447M72.72 432.5L76.72 432.5M72.72 447L76.72 447M77.05 427.47L77.05 441.8M75.05 427.47L79.05 427.47M75.05 441.8L79.05 441.8M79.37 434.32L79.37 445.23M77.37 434.32L81.37 434.32M77.37 445.23L81.37 445.23M81.69 423.23L81.69 433.45M79.69 423.23L83.69 423.23M79.69 433.45L83.69 433.45M84.02 420.97L84.02 436.1M82.02 420.97L86.02 420.97M82.02 436.1L86.02 436.1M86.34 422.75L86.34 436.81M84.34 422.75L88.34 422.75M84.34 436.81L88.34 436.81M88.67 423.96L88.67 434.97M86.67 423.96L90.67 423.96M86.67 434.97L90.67 434.97M90.99 421.32L90.99 437.48M88.99 421.32L92.99 421.32M88.99 437.48L92.99 437.48M93.31 416.15L93.31 430.08M91.31 416.15L95.31 416.15M91.31 430.08L95.31 430.08M95.64 422.32L95.64 435.8M93.64 422.32L97.64 422.32M93.64 435.8L97.64 435.8M97.96 418.83L97.96 431.95M95.96 418.83L99.96 418.83M95.96 431.95L99.96 431.95M100.29 429.37L100.29 446.07M98.29 429.37L102.29 429.37M98.29 446.07L102.29 446.07M102.61 429.35L102.61 442.95M100.61 429.35L104.61 429.35M100.61 442.95L104.61 442.95M104.93 420.91L104.93 435.94M102.93 420.91L106.93 420.91M102.93 435.94L106.93 435.94M107.26 423.54L107.26 434.81M105.26 423.54L109.26 423.54M105.26 434.81L109.26 434.81M109.58 416.59L109.58 428.9M107.58 416.59L111.58 416.59M107.58 428.9L111.58 428.9M111.91 423.12L111.91 435.04M109.91 423.12L113.91 423.12M109.91 435.04L113.91 435.04M114.23 420.91L114.23 433.27M112.23 420.91L116.23 420.91M112.23 433.27L116.23 433.27M116.55 423.62L116.55 432.81M114.55 423.62L118.55 423.62M114.55 432.81L118.55 432.81M118.88 424.15L118.88 432.25M116.88 424.15L120.88 424.15M116.88 432.25L120.88 432.25M121.2 421.83L121.2 429.26M119.2 421.83L123.2 421.83M119.2 429.26L123.2 429.26M123.53 418.89L123.53 426.17M121.53 418.89L125.53 418.89M121.53 426.17L125.53 426.17M125.85 416.96L125.85 429.73M123.85 416.96L127.85 416.96M123.85 429.73L127.85 429.73M128.17 415.72L128.17 428.26M126.17 415.72L130.17 415.72M126.17 428.26L130.17 428.26M130.5 414.69L130.5 423.59M128.5 414.69L132.5 414.69M128.5 423.59L132.5 423.59M132.82 422.34L132.82 430M130.82 422.34L134.82 422.34M130.82 430L134.82 430M135.15 419.49L135.15 428.21M133.15 419.49L137.15 419.49M133.15 428.21L137.15 428.21M137.47 419.22L137.47 431.4M135.47 419.22L139.47 419.22M135.47 431.4L139.47 431.4M139.79 420.47L139.79 429.42M137.79 420.47L141.79 420.47M137.79 429.42L141.79 429.42M142.12 413.36L142.12 426.12M140.12 413.36L144.12 413.36M140.12 426.12L144.12 426.12M144.44 419.65L144.44 429.92M142.44 419.65L146.44 419.65M142.44 429.92L146.44 429.92M146.77 416.77L146.77 423.86M144.77 416.77L148.77 416.77M144.77 423.86L148.77 423.86M149.09 412.69L149.09 423.48M147.09 412.69L151.09 412.69M147.09 423.48L151.09 423.48M151.41 414.42L151.41 423.81M149.41 414.42L153.41 414.42M149.41 423.81L153.41 423.81M153.74 416.73L153.74 423.67M151.74 416.73L155.74 416.73M151.74 423.67L155.74 423.67M156.06 413.66L156.06 423.96M154.06 413.66L158.06 413.66M154.06 423.96L158.06 423.96M158.39 414.24L158.39 426.66M156.39 414.24L160.39 414.24M156.39 426.66L160.39 426.66M160.71 423.13L160.71 434.63M158.71 423.13L162.71 423.13M158.71 434.63L162.71 434.63M163.03 421.03L163.03 429.94M161.03 421.03L165.03 421.03M161.03 429.94L165.03 429.94M165.36 415.94L165.36 428.16M163.36 415.94L167.36 415.94M163.36 428.16L167.36 428.16M167.68 413.42L167.68 424.89M165.68 413.42L169.68 413.42M165.68 424.89L169.68 424.89M170.01 413.43L170.01 423.88M168.01 413.43L172.01 413.43M168.01 423.88L172.01 423.88M172.33 413.59L172.33 422.19M170.33 413.59L174.33 413.59M170.33 422.19L174.33 422.19M174.65 408.71L174.65 420.57M172.65 408.71L176.65 408.71M172.65 420.57L176.65 420.57M176.98 412.47L176.98 419.9M174.98 412.47L178.98 412.47M174.98 419.9L178.98 419.9M179.3 413.89L179.3 425.77M177.3 413.89L181.3 413.89M177.3 425.77L181.3 425.77M181.63 415.95L181.63 425.89M179.63 415.95L183.63 415.95M179.63 425.89L183.63 425.89M183.95 419.63L183.95 426.52M181.95 419.63L185.95 419.63M181.95 426.52L185.95 426.52M186.27 418.96L186.27 427.72M184.27 418.96L188.27 418.96M184.27 427.72L188.27 427.72M188.6 417.24L188.6 428.2M186.6 417.24L190.6 417.24M186.6 428.2L190.6 428.2M190.92 416.51L190.92 428.45M188.92 416.51L192.92 416.51M188.92 428.45L192.92 428.45M193.25 412.33L193.25 422.87M191.25 412.33L195.25 412.33M191.25 422.87L195.25 422.87M195.57 409.62L195.57 422M193.57 409.62L197.57 409.62M193.57 422L197.57 422M197.89 414.53L197.89 425.13M195.89 414.53L199.89 414.53M195.89 425.13L199.89 425.13M200.22 410.3L200.22 422.01M198.22 410.3L202.22 410.3M198.22 422.01L202.22 422.01M202.54 414.45L202.54 426.91M200.54 414.45L204.54 414.45M200.54 426.91L204.54 426.91M204.87 414.59L204.87 426.26M202.87 414.59L206.87 414.59M202.87 426.26L206.87 426.26M207.19 410.75L207.19 418.14M205.19 410.75L209.19 410.75M205.19 418.14L209.19 418.14M209.51 410.62L209.51 418.96M207.51 410.62L211.51 410.62M207.51 418.96L211.51 418.96M211.84 420.12L211.84 429.95M209.84 420.12L213.84 420.12M209.84 429.95L213.84 429.95M214.16 417.21L214.16 428.65M212.16 417.21L216.16 417.21M212.16 428.65L216.16 428.65M216.49 420.71L216.49 428.06M214.49 420.71L218.49 420.71M214.49 428.06L218.49 428.06M218.81 414.34L218.81 427.01M216.81 414.34L220.81 414.34M216.81 427.01L220.81 427.01M221.13 409.67L221.13 419.44M219.13 409.67L223.13 409.67M219.13 419.44L223.13 419.44M223.46 411.76L223.46 419.84M221.46 411.76L225.46 411.76M221.46 419.84L225.46 419.84M225.78 408.62L225.78 420.15M223.78 408.62L227.78 408.62M223.78 420.15L227.78 420.15M228.11 411.29L228.11 420.45M226.11 411.29L230.11 411.29M226.11 420.45L230.11 420.45M230.43 408.83L230.43 417.21M228.43 408.83L232.43 408.83M228.43 417.21L232.43 417.21M232.75 407.26L232.75 416.83M230.75 407.26L234.75 407.26M230.75 416.83L234.75 416.83M235.08 406.62L235.08 415.38M233.08 406.62L237.08 406.62M233.08 415.38L237.08 415.38M237.4 402.53L237.4 411.96M235.4 402.53L239.4 402.53M235.4 411.96L239.4 411.96M239.73 406.89L239.73 415.11M237.73 406.89L241.73 406.89M237.73 415.11L241.73 415.11M242.05 403.29L242.05 411.03M240.05 403.29L244.05 403.29M240.05 411.03L244.05 411.03M244.37 407.56L244.37 415.49M242.37 407.56L246.37 407.56M242.37 415.49L246.37 415.49M246.7 407.97L246.7 417.08M244.7 407.97L248.7 407.97M244.7 417.08L248.7 417.08M249.02 405.95L249.02 416.57M247.02 405.95L251.02 405.95M247.02 416.57L251.02 416.57M251.35 404.9L251.35 416.45M249.35 404.9L253.35 404.9M249.35 416.45L253.35 416.45M253.67 401.39L253.67 411.81M251.67 401.39L255.67 401.39M251.67 411.81L255.67 411.81M255.99 407.48L255.99 418.78M253.99 407.48L257.99 407.48M253.99 418.78L257.99 418.78M258.32 412.21L258.32 423.21M256.32 412.21L260.32 412.21M256.32 423.21L260.32 423.21M260.64 411.45L260.64 422.02M258.64 411.45L262.64 411.45M258.64 422.02L262.64 422.02M262.97 416.46L262.97 424.76M260.97 416.46L264.97 416.46M260.97 424.76L264.97 424.76M265.29 413.64L265.29 426.02M263.29 413.64L267.29 413.64M263.29 426.02L267.29 426.02M267.61 410.78L267.61 423.43M265.61 410.78L269.61 410.78M265.61 423.43L269.61 423.43M269.94 414.77L269.94 424.69M267.94 414.77L271.94 414.77M267.94 424.69L271.94 424.69M272.26 409.37L272.26 420M270.26 409.37L274.26 409.37M270.26 420L274.26 420M274.59 405.24L274.59 416.14M272.59 405.24L276.59 405.24M272.59 416.14L276.59 416.14M276.91 406.89L276.91 414.03M274.91 406.89L278.91 406.89M274.91 414.03L278.91 414.03M279.23 405.14L279.23 416.13M277.23 405.14L281.23 405.14M277.23 416.13L281.23 416.13M281.56 410.01L281.56 419.98M279.56 410.01L283.56 410.01M279.56 419.98L283.56 419.98M283.88 404.27L283.88 415.73M281.88 404.27L285.88 404.27M281.88 415.73L285.88 415.73M286.21 407.2L286.21 419.78M284.21 407.2L288.21 407.2M284.21 419.78L288.21 419.78M288.53 413.91L288.53 422.47M286.53 413.91L290.53 413.91M286.53 422.47L290.53 422.47M290.85 416.15L290.85 424.55M288.85 416.15L292.85 416.15M288.85 424.55L292.85 424.55M293.18 405.66L293.18 416.79M291.18 405.66L295.18 405.66M291.18 416.79L295.18 416.79M295.5 408.82L295.5 419.44M293.5 408.82L297.5 408.82M293.5 419.44L297.5 419.44M297.83 407.54L297.83 419.31M295.83 407.54L299.83 407.54M295.83 419.31L299.83 419.31M300.15 417.23L300.15 424.12M298.15 417.23L302.15 417.23M298.15 424.12L302.15 424.12M302.47 414.8L302.47 422.45M300.47 414.8L304.47 414.8M300.47 422.45L304.47 422.45M304.8 418.83L304.8 430.38M302.8 418.83L306.8 418.83M302.8 430.38L306.8 430.38M307.12 415.74L307.12 427.9M305.12 415.74L309.12 415.74M305.12 427.9L309.12 427.9M309.45 411.35L309.45 422.6M307.45 411.35L311.45 411.35M307.45 422.6L311.45 422.6M311.77 404.01L311.77 411.64M309.77 404.01L313.77 404.01M309.77 411.64L313.77 411.64M314.09 406.93L314.09 416.72M312.09 406.93L316.09 406.93M312.09 416.72L316.09 416.72M316.42 409.31L316.42 419.48M314.42 409.31L318.42 409.31M314.42 419.48L318.42 419.48M318.74 419.33L318.74 426.58M316.74 419.33L320.74 419.33M316.74 426.58L320.74 426.58M321.07 419.07L321.07 431.46M319.07 419.07L323.07 419.07M319.07 431.46L323.07 431.46M323.39 420.92L323.39 427.92M321.39 420.92L325.39 420.92M321.39 427.92L325.39 427.92M325.71 411.66L325.71 421.31M323.71 411.66L327.71 411.66M323.71 421.31L327.71 421.31M328.04 408.42L328.04 418.55M326.04 408.42L330.04 408.42M326.04 418.55L330.04 418.55M330.36 410.24L330.36 418.67M328.36 410.24L332.36 410.24M328.36 418.67L332.36 418.67M332.69 411.6L332.69 420.3M330.69 411.6L334.69 411.6M330.69 420.3L334.69 420.3M335.01 410.87L335.01 422.01M333.01 410.87L337.01 410.87M333.01 422.01L337.01 422.01M337.33 412.86L337.33 420.8M335.33 412.86L339.33 412.86M335.33 420.8L339.33 420.8M339.66 419.86L339.66 430.33M337.66 419.86L341.66 419.86M337.66 430.33L341.66 430.33" stroke="#000" stroke-width="1.1" fill="none"/>
<path d="M39.86 420.8L42.19 440.33L44.51 433.73L46.83 440.55L49.16 433.02L51.48 431.74L53.81 441.4L56.13 438.14L58.45 439.14L60.78 440.25L63.1 437.38L65.43 440.98L67.75 438.41L70.07 430.69L72.4 442.98L74.72 439.75L77.05 434.64L79.37 439.78L81.69 428.34L84.02 428.54L86.34 429.78L88.67 429.47L90.99 429.4L93.31 423.12L95.64 429.06L97.96 425.39L100.29 437.72L102.61 436.15L104.93 428.42L107.26 429.17L109.58 422.75L111.91 429.08L114.23 427.09L116.55 428.21L118.88 428.2L121.2 425.55L123.53 422.53L125.85 423.35L128.17 421.99L130.5 419.14L132.82 426.17L135.15 423.85L137.47 425.31L139.79 424.95L142.12 419.74L144.44 424.79L146.77 420.32L149.09 418.08L151.41 419.11L153.74 420.2L156.06 418.81L158.39 420.45L160.71 428.88L163.03 425.48L165.36 422.05L167.68 419.16L170.01 418.65L172.33 417.89L174.65 414.64L176.98 416.19L179.3 419.83L181.63 420.92L183.95 423.07L186.27 423.34L188.6 422.72L190.92 422.48L193.25 417.6L195.57 415.81L197.89 419.83L200.22 416.16L202.54 420.68L204.87 420.42L207.19 414.44L209.51 414.79L211.84 425.04L214.16 422.93L216.49 424.39L218.81 420.67L221.13 414.55L223.46 415.8L225.78 414.38L228.11 415.87L230.43 413.02L232.75 412.05L235.08 411L237.4 407.24L239.73 411L242.05 407.16L244.37 411.52L246.7 412.53L249.02 411.26L251.35 410.67L253.67 406.6L255.99 413.13L258.32 417.71L260.64 416.74L262.97 420.61L265.29 419.83L267.61 417.11L269.94 419.73L272.26 414.68L274.59 410.69L276.91 410.46L279.23 410.63L281.56 415L283.88 410L286.21 413.49L288.53 418.19L290.85 420.35L293.18 411.22L295.5 414.13L297.83 413.42L300.15 420.68L302.47 418.63L304.8 424.6L307.12 421.82L309.45 416.98L311.77 407.83L314.09 411.82L316.42 414.39L318.74 422.95L321.07 425.27L323.39 424.42L325.71 416.48L328.04 413.48L330.36 414.46L332.69 415.95L335.01 416.44L337.33 416.83L339.66 425.1" stroke="#000" stroke-width="0.9" fill="none" stroke-dasharray="1 1.2"/>
<path d="M38.01 420.8a1.85 1.85 0 1 0 3.7 0a1.85 1.85 0 1 0 -3.7 0zM40.34 440.33a1.85 1.85 0 1 0 3.7 0a1.85 1.85 0 1 0 -3.7 0zM42.66 433.73a1.85 1.85 0 1 0 3.7 0a1.85 1.85 0 1 0 -3.7 0zM44.98 440.55a1.85 1.85 0 1 0 3.7 0a1.85 1.85 0 1 0 -3.7 0zM47.31 433.02a1.85 1.85 0 1 0 3.7 0a1.85 1.85 0 1 0 -3.7 0zM49.63 431.74a1.85 1.85 0 1 0 3.7 0a1.85 1.85 0 1 0 -3.7 0zM51.96 441.4a1.85 1.85 0 1 0 3.7 0a1.85 1.85 0 1 0 -3.7 0zM54.28 438.14a1.85 1.85 0 1 0 3.7 0a1.85 1.85 0 1 0 -3.7 0zM56.6 439.14a1.85 1.85 0 1 0 3.7 0a1.85 1.85 0 1 0 -3.7 0zM58.93 440.25a1.85 1.85 0 1 0 3.7 0a1.85 1.85 0 1 0 -3.7 0zM61.25 437.38a1.85 1.85 0 1 0 3.7 0a1.85 1.85 0 1 0 -3.7 0zM63.58 440.98a1.85 1.85 0 1 0 3.7 0a1.85 1.85 0 1 0 -3.7 0zM65.9 438.41a1.85 1.85 0 1 0 3.7 0a1.85 1.85 0 1 0 -3.7 0zM68.22 430.69a1.85 1.85 0 1 0 3.7 0a1.85 1.85 0 1 0 -3.7 0zM70.55 442.98a1.85 1.85 0 1 0 3.7 0a1.85 1.85 0 1 0 -3.7 0zM72.87 439.75a1.85 1.85 0 1 0 3.7 0a1.85 1.85 0 1 0 -3.7 0zM75.2 434.64a1.85 1.85 0 1 0 3.7 0a1.85 1.85 0 1 0 -3.7 0zM77.52 439.78a1.85 1.85 0 1 0 3.7 0a1.85 1.85 0 1 0 -3.7 0zM79.84 428.34a1.85 1.85 0 1 0 3.7 0a1.85 1.85 0 1 0 -3.7 0zM82.17 428.54a1.85 1.85 0 1 0 3.7 0a1.85 1.85 0 1 0 -3.7 0zM84.49 429.78a1.85 1.85 0 1 0 3.7 0a1.85 1.85 0 1 0 -3.7 0zM86.82 429.47a1.85 1.85 0 1 0 3.7 0a1.85 1.85 0 1 0 -3.7 0zM89.14 429.4a1.85 1.85 0 1 0 3.7 0a1.85 1.85 0 1 0 -3.7 0zM91.46 423.12a1.85 1.85 0 1 0 3.7 0a1.85 1.85 0 1 0 -3.7 0zM93.79 429.06a1.85 1.85 0 1 0 3.7 0a1.85 1.85 0 1 0 -3.7 0zM96.11 425.39a1.85 1.85 0 1 0 3.7 0a1.85 1.85 0 1 0 -3.7 0zM98.44 437.72a1.85 1.85 0 1 0 3.7 0a1.85 1.85 0 1 0 -3.7 0zM100.76 436.15a1.85 1.85 0 1 0 3.7 0a1.85 1.85 0 1 0 -3.7 0zM103.08 428.42a1.85 1.85 0 1 0 3.7 0a1.85 1.85 0 1 0 -3.7 0zM105.41 429.17a1.85 1.85 0 1 0 3.7 0a1.85 1.85 0 1 0 -3.7 0zM107.73 422.75a1.85 1.85 0 1 0 3.7 0a1.85 1.85 0 1 0 -3.7 0zM110.06 429.08a1.85 1.85 0 1 0 3.7 0a1.85 1.85 0 1 0 -3.7 0zM112.38 427.09a1.85 1.85 0 1 0 3.7 0a1.85 1.85 0 1 0 -3.7 0zM114.7 428.21a1.85 1.85 0 1 0 3.7 0a1.85 1.85 0 1 0 -3.7 0zM117.03 428.2a1.85 1.85 0 1 0 3.7 0a1.85 1.85 0 1 0 -3.7 0zM119.35 425.55a1.85 1.85 0 1 0 3.7 0a1.85 1.85 0 1 0 -3.7 0zM121.68 422.53a1.85 1.85 0 1 0 3.7 0a1.85 1.85 0 1 0 -3.7 0zM124 423.35a1.85 1.85 0 1 0 3.7 0a1.85 1.85 0 1 0 -3.7 0zM126.32 421.99a1.85 1.85 0 1 0 3.7 0a1.85 1.85 0 1 0 -3.7 0zM128.65 419.14a1.85 1.85 0 1 0 3.7 0a1.85 1.85 0 1 0 -3.7 0zM130.97 426.17a1.85 1.85 0 1 0 3.7 0a1.85 1.85 0 1 0 -3.7 0zM133.3 423.85a1.85 1.85 0 1 0 3.7 0a1.85 1.85 0 1 0 -3.7 0zM135.62 425.31a1.85 1.85 0 1 0 3.7 0a1.85 1.85 0 1 0 -3.7 0zM137.94 424.95a1.85 1.85 0 1 0 3.7 0a1.85 1.85 0 1 0 -3.7 0zM140.27 419.74a1.85 1.85 0 1 0 3.7 0a1.85 1.85 0 1 0 -3.7 0zM142.59 424.79a1.85 1.85 0 1 0 3.7 0a1.85 1.85 0 1 0 -3.7 0zM144.92 420.32a1.85 1.85 0 1 0 3.7 0a1.85 1.85 0 1 0 -3.7 0zM147.24 418.08a1.85 1.85 0 1 0 3.7 0a1.85 1.85 0 1 0 -3.7 0zM149.56 419.11a1.85 1.85 0 1 0 3.7 0a1.85 1.85 0 1 0 -3.7 0zM151.89 420.2a1.85 1.85 0 1 0 3.7 0a1.85 1.85 0 1 0 -3.7 0zM154.21 418.81a1.85 1.85 0 1 0 3.7 0a1.85 1.85 0 1 0 -3.7 0zM156.54 420.45a1.85 1.85 0 1 0 3.7 0a1.85 1.85 0 1 0 -3.7 0zM158.86 428.88a1.85 1.85 0 1 0 3.7 0a1.85 1.85 0 1 0 -3.7 0zM161.18 425.48a1.85 1.85 0 1 0 3.7 0a1.85 1.85 0 1 0 -3.7 0zM163.51 422.05a1.85 1.85 0 1 0 3.7 0a1.85 1.85 0 1 0 -3.7 0zM165.83 419.16a1.85 1.85 0 1 0 3.7 0a1.85 1.85 0 1 0 -3.7 0zM168.16 418.65a1.85 1.85 0 1 0 3.7 0a1.85 1.85 0 1 0 -3.7 0zM170.48 417.89a1.85 1.85 0 1 0 3.7 0a1.85 1.85 0 1 0 -3.7 0zM172.8 414.64a1.85 1.85 0 1 0 3.7 0a1.85 1.85 0 1 0 -3.7 0zM175.13 416.19a1.85 1.85 0 1 0 3.7 0a1.85 1.85 0 1 0 -3.7 0zM177.45 419.83a1.85 1.85 0 1 0 3.7 0a1.85 1.85 0 1 0 -3.7 0zM179.78 420.92a1.85 1.85 0 1 0 3.7 0a1.85 1.85 0 1 0 -3.7 0zM182.1 423.07a1.85 1.85 0 1 0 3.7 0a1.85 1.85 0 1 0 -3.7 0zM184.42 423.34a1.85 1.85 0 1 0 3.7 0a1.85 1.85 0 1 0 -3.7 0zM186.75 422.72a1.85 1.85 0 1 0 3.7 0a1.85 1.85 0 1 0 -3.7 0zM189.07 422.48a1.85 1.85 0 1 0 3.7 0a1.85 1.85 0 1 0 -3.7 0zM191.4 417.6a1.85 1.85 0 1 0 3.7 0a1.85 1.85 0 1 0 -3.7 0zM193.72 415.81a1.85 1.85 0 1 0 3.7 0a1.85 1.85 0 1 0 -3.7 0zM196.04 419.83a1.85 1.85 0 1 0 3.7 0a1.85 1.85 0 1 0 -3.7 0zM198.37 416.16a1.85 1.85 0 1 0 3.7 0a1.85 1.85 0 1 0 -3.7 0zM200.69 420.68a1.85 1.85 0 1 0 3.7 0a1.85 1.85 0 1 0 -3.7 0zM203.02 420.42a1.85 1.85 0 1 0 3.7 0a1.85 1.85 0 1 0 -3.7 0zM205.34 414.44a1.85 1.85 0 1 0 3.7 0a1.85 1.85 0 1 0 -3.7 0zM207.66 414.79a1.85 1.85 0 1 0 3.7 0a1.85 1.85 0 1 0 -3.7 0zM209.99 425.04a1.85 1.85 0 1 0 3.7 0a1.85 1.85 0 1 0 -3.7 0zM212.31 422.93a1.85 1.85 0 1 0 3.7 0a1.85 1.85 0 1 0 -3.7 0zM214.64 424.39a1.85 1.85 0 1 0 3.7 0a1.85 1.85 0 1 0 -3.7 0zM216.96 420.67a1.85 1.85 0 1 0 3.7 0a1.85 1.85 0 1 0 -3.7 0zM219.28 414.55a1.85 1.85 0 1 0 3.7 0a1.85 1.85 0 1 0 -3.7 0zM221.61 415.8a1.85 1.85 0 1 0 3.7 0a1.85 1.85 0 1 0 -3.7 0zM223.93 414.38a1.85 1.85 0 1 0 3.7 0a1.85 1.85 0 1 0 -3.7 0zM226.26 415.87a1.85 1.85 0 1 0 3.7 0a1.85 1.85 0 1 0 -3.7 0zM228.58 413.02a1.85 1.85 0 1 0 3.7 0a1.85 1.85 0 1 0 -3.7 0zM230.9 412.05a1.85 1.85 0 1 0 3.7 0a1.85 1.85 0 1 0 -3.7 0zM233.23 411a1.85 1.85 0 1 0 3.7 0a1.85 1.85 0 1 0 -3.7 0zM235.55 407.24a1.85 1.85 0 1 0 3.7 0a1.85 1.85 0 1 0 -3.7 0zM237.88 411a1.85 1.85 0 1 0 3.7 0a1.85 1.85 0 1 0 -3.7 0zM240.2 407.16a1.85 1.85 0 1 0 3.7 0a1.85 1.85 0 1 0 -3.7 0zM242.52 411.52a1.85 1.85 0 1 0 3.7 0a1.85 1.85 0 1 0 -3.7 0zM244.85 412.53a1.85 1.85 0 1 0 3.7 0a1.85 1.85 0 1 0 -3.7 0zM247.17 411.26a1.85 1.85 0 1 0 3.7 0a1.85 1.85 0 1 0 -3.7 0zM249.5 410.67a1.85 1.85 0 1 0 3.7 0a1.85 1.85 0 1 0 -3.7 0zM251.82 406.6a1.85 1.85 0 1 0 3.7 0a1.85 1.85 0 1 0 -3.7 0zM254.14 413.13a1.85 1.85 0 1 0 3.7 0a1.85 1.85 0 1 0 -3.7 0zM256.47 417.71a1.85 1.85 0 1 0 3.7 0a1.85 1.85 0 1 0 -3.7 0zM258.79 416.74a1.85 1.85 0 1 0 3.7 0a1.85 1.85 0 1 0 -3.7 0zM261.12 420.61a1.85 1.85 0 1 0 3.7 0a1.85 1.85 0 1 0 -3.7 0zM263.44 419.83a1.85 1.85 0 1 0 3.7 0a1.85 1.85 0 1 0 -3.7 0zM265.76 417.11a1.85 1.85 0 1 0 3.7 0a1.85 1.85 0 1 0 -3.7 0zM268.09 419.73a1.85 1.85 0 1 0 3.7 0a1.85 1.85 0 1 0 -3.7 0zM270.41 414.68a1.85 1.85 0 1 0 3.7 0a1.85 1.85 0 1 0 -3.7 0zM272.74 410.69a1.85 1.85 0 1 0 3.7 0a1.85 1.85 0 1 0 -3.7 0zM275.06 410.46a1.85 1.85 0 1 0 3.7 0a1.85 1.85 0 1 0 -3.7 0zM277.38 410.63a1.85 1.85 0 1 0 3.7 0a1.85 1.85 0 1 0 -3.7 0zM279.71 415a1.85 1.85 0 1 0 3.7 0a1.85 1.85 0 1 0 -3.7 0zM282.03 410a1.85 1.85 0 1 0 3.7 0a1.85 1.85 0 1 0 -3.7 0zM284.36 413.49a1.85 1.85 0 1 0 3.7 0a1.85 1.85 0 1 0 -3.7 0zM286.68 418.19a1.85 1.85 0 1 0 3.7 0a1.85 1.85 0 1 0 -3.7 0zM289 420.35a1.85 1.85 0 1 0 3.7 0a1.85 1.85 0 1 0 -3.7 0zM291.33 411.22a1.85 1.85 0 1 0 3.7 0a1.85 1.85 0 1 0 -3.7 0zM293.65 414.13a1.85 1.85 0 1 0 3.7 0a1.85 1.85 0 1 0 -3.7 0zM295.98 413.42a1.85 1.85 0 1 0 3.7 0a1.85 1.85 0 1 0 -3.7 0zM298.3 420.68a1.85 1.85 0 1 0 3.7 0a1.85 1.85 0 1 0 -3.7 0zM300.62 418.63a1.85 1.85 0 1 0 3.7 0a1.85 1.85 0 1 0 -3.7 0zM302.95 424.6a1.85 1.85 0 1 0 3.7 0a1.85 1.85 0 1 0 -3.7 0zM305.27 421.82a1.85 1.85 0 1 0 3.7 0a1.85 1.85 0 1 0 -3.7 0zM307.6 416.98a1.85 1.85 0 1 0 3.7 0a1.85 1.85 0 1 0 -3.7 0zM309.92 407.83a1.85 1.85 0 1 0 3.7 0a1.85 1.85 0 1 0 -3.7 0zM312.24 411.82a1.85 1.85 0 1 0 3.7 0a1.85 1.85 0 1 0 -3.7 0zM314.57 414.39a1.85 1.85 0 1 0 3.7 0a1.85 1.85 0 1 0 -3.7 0zM316.89 422.95a1.85 1.85 0 1 0 3.7 0a1.85 1.85 0 1 0 -3.7 0zM319.22 425.27a1.85 1.85 0 1 0 3.7 0a1.85 1.85 0 1 0 -3.7 0zM321.54 424.42a1.85 1.85 0 1 0 3.7 0a1.85 1.85 0 1 0 -3.7 0zM323.86 416.48a1.85 1.85 0 1 0 3.7 0a1.85 1.85 0 1 0 -3.7 0zM326.19 413.48a1.85 1.85 0 1 0 3.7 0a1.85 1.85 0 1 0 -3.7 0zM328.51 414.46a1.85 1.85 0 1 0 3.7 0a1.85 1.85 0 1 0 -3.7 0zM330.84 415.95a1.85 1.85 0 1 0 3.7 0a1.85 1.85 0 1 0 -3.7 0zM333.16 416.44a1.85 1.85 0 1 0 3.7 0a1.85 1.85 0 1 0 -3.7 0zM335.48 416.83a1.85 1.85 0 1 0 3.7 0a1.85 1.85 0 1 0 -3.7 0zM337.81 425.1a1.85 1.85 0 1 0 3.7 0a1.85 1.85 0 1 0 -3.7 0z" stroke="#000" stroke-width="1.1" fill="#fff"/>
<path d="M39.86 455.98L39.86 462.55M37.86 455.98L41.86 455.98M37.86 462.55L41.86 462.55M42.19 455.97L42.19 463.44M40.19 455.97L44.19 455.97M40.19 463.44L44.19 463.44M44.51 457.2L44.51 462.52M42.51 457.2L46.51 457.2M42.51 462.52L46.51 462.52M46.83 455.99L46.83 461.71M44.83 455.99L48.83 455.99M44.83 461.71L48.83 461.71M49.16 454.03L49.16 460.94M47.16 454.03L51.16 454.03M47.16 460.94L51.16 460.94M51.48 454.51L51.48 462.05M49.48 454.51L53.48 454.51M49.48 462.05L53.48 462.05M53.81 454.54L53.81 460.74M51.81 454.54L55.81 454.54M51.81 460.74L55.81 460.74M56.13 456.63L56.13 463.32M54.13 456.63L58.13 456.63M54.13 463.32L58.13 463.32M58.45 458.24L58.45 463.87M56.45 458.24L60.45 458.24M56.45 463.87L60.45 463.87M60.78 456.14L60.78 461.62M58.78 456.14L62.78 456.14M58.78 461.62L62.78 461.62M63.1 455.88L63.1 463.46M61.1 455.88L65.1 455.88M61.1 463.46L65.1 463.46M65.43 459.7L65.43 464.79M63.43 459.7L67.43 459.7M63.43 464.79L67.43 464.79M67.75 454.5L67.75 467.5M65.75 454.5L69.75 454.5M65.75 467.5L69.75 467.5M70.07 457.97L70.07 463.81M68.07 457.97L72.07 457.97M68.07 463.81L72.07 463.81M72.4 457.53L72.4 462.62M70.4 457.53L74.4 457.53M70.4 462.62L74.4 462.62M74.72 453.36L74.72 458.73M72.72 453.36L76.72 453.36M72.72 458.73L76.72 458.73M77.05 452.42L77.05 458.14M75.05 452.42L79.05 452.42M75.05 458.14L79.05 458.14M79.37 455L79.37 461.34M77.37 455L81.37 455M77.37 461.34L81.37 461.34M81.69 454.77L81.69 459.83M79.69 454.77L83.69 454.77M79.69 459.83L83.69 459.83M84.02 451.99L84.02 459.46M82.02 451.99L86.02 451.99M82.02 459.46L86.02 459.46M86.34 453.7L86.34 461.29M84.34 453.7L88.34 453.7M84.34 461.29L88.34 461.29M88.67 449.95L88.67 457.27M86.67 449.95L90.67 449.95M86.67 457.27L90.67 457.27M90.99 452.35L90.99 457.6M88.99 452.35L92.99 452.35M88.99 457.6L92.99 457.6M93.31 449.76L93.31 456.3M91.31 449.76L95.31 449.76M91.31 456.3L95.31 456.3M95.64 450.26L95.64 457.65M93.64 450.26L97.64 450.26M93.64 457.65L97.64 457.65M97.96 449.21L97.96 454.36M95.96 449.21L99.96 449.21M95.96 454.36L99.96 454.36M100.29 450.88L100.29 456.77M98.29 450.88L102.29 450.88M98.29 456.77L102.29 456.77M102.61 449.99L102.61 455.41M100.61 449.99L104.61 449.99M100.61 455.41L104.61 455.41M104.93 447.19L104.93 453.11M102.93 447.19L106.93 447.19M102.93 453.11L106.93 453.11M107.26 448.25L107.26 455.56M105.26 448.25L109.26 448.25M105.26 455.56L109.26 455.56M109.58 449.73L109.58 454.86M107.58 449.73L111.58 449.73M107.58 454.86L111.58 454.86M111.91 447.97L111.91 454.4M109.91 447.97L113.91 447.97M109.91 454.4L113.91 454.4M114.23 446.9L114.23 453.43M112.23 446.9L116.23 446.9M112.23 453.43L116.23 453.43M116.55 449.82L116.55 455.12M114.55 449.82L118.55 449.82M114.55 455.12L118.55 455.12M118.88 449.43L118.88 455.47M116.88 449.43L120.88 449.43M116.88 455.47L120.88 455.47M121.2 453.08L121.2 460.06M119.2 453.08L123.2 453.08M119.2 460.06L123.2 460.06M123.53 455.98L123.53 461.16M121.53 455.98L125.53 455.98M121.53 461.16L125.53 461.16M125.85 452.36L125.85 459.91M123.85 452.36L127.85 452.36M123.85 459.91L127.85 459.91M128.17 451.06L128.17 458.47M126.17 451.06L130.17 451.06M126.17 458.47L130.17 458.47M130.5 451.23L130.5 456.8M128.5 451.23L132.5 451.23M128.5 456.8L132.5 456.8M132.82 447.31L132.82 452.85M130.82 447.31L134.82 447.31M130.82 452.85L134.82 452.85M135.15 443.91L135.15 451.33M133.15 443.91L137.15 443.91M133.15 451.33L137.15 451.33M137.47 441.36L137.47 447.64M135.47 441.36L139.47 441.36M135.47 447.64L139.47 447.64M139.79 443.54L139.79 450.81M137.79 443.54L141.79 443.54M137.79 450.81L141.79 450.81M142.12 446.14L142.12 451.69M140.12 446.14L144.12 446.14M140.12 451.69L144.12 451.69M144.44 445.71L144.44 451.01M142.44 445.71L146.44 445.71M142.44 451.01L146.44 451.01M146.77 446.86L146.77 454.41M144.77 446.86L148.77 446.86M144.77 454.41L148.77 454.41M149.09 447.29L149.09 452.51M147.09 447.29L151.09 447.29M147.09 452.51L151.09 452.51M151.41 449.26L151.41 454.7M149.41 449.26L153.41 449.26M149.41 454.7L153.41 454.7M153.74 449.76L153.74 455.56M151.74 449.76L155.74 449.76M151.74 455.56L155.74 455.56M156.06 450.5L156.06 456.63M154.06 450.5L158.06 450.5M154.06 456.63L158.06 456.63M158.39 447L158.39 453.58M156.39 447L160.39 447M156.39 453.58L160.39 453.58M160.71 445.44L160.71 452.04M158.71 445.44L162.71 445.44M158.71 452.04L162.71 452.04M163.03 446.75L163.03 453.6M161.03 446.75L165.03 446.75M161.03 453.6L165.03 453.6M165.36 444.33L165.36 449.79M163.36 444.33L167.36 444.33M163.36 449.79L167.36 449.79M167.68 447.78L167.68 452.98M165.68 447.78L169.68 447.78M165.68 452.98L169.68 452.98M170.01 448.4L170.01 453.69M168.01 448.4L172.01 448.4M168.01 453.69L172.01 453.69M172.33 448.61L172.33 455.41M170.33 448.61L174.33 448.61M170.33 455.41L174.33 455.41M174.65 449.36L174.65 455.43M172.65 449.36L176.65 449.36M172.65 455.43L176.65 455.43M176.98 447.87L176.98 454.77M174.98 447.87L178.98 447.87M174.98 454.77L178.98 454.77M179.3 449.74L179.3 455.76M177.3 449.74L181.3 449.74M177.3 455.76L181.3 455.76M181.63 452.68L181.63 458.09M179.63 452.68L183.63 452.68M179.63 458.09L183.63 458.09M183.95 451.95L183.95 459.4M181.95 451.95L185.95 451.95M181.95 459.4L185.95 459.4M186.27 451.16L186.27 458.51M184.27 451.16L188.27 451.16M184.27 458.51L188.27 458.51M188.6 453.51L188.6 460.66M186.6 453.51L190.6 453.51M186.6 460.66L190.6 460.66M190.92 456.14L190.92 461.8M188.92 456.14L192.92 456.14M188.92 461.8L192.92 461.8M193.25 456.32L193.25 461.19M191.25 456.32L195.25 456.32M191.25 461.19L195.25 461.19M195.57 456.89L195.57 461.81M193.57 456.89L197.57 456.89M193.57 461.81L197.57 461.81M197.89 456.01L197.89 462.46M195.89 456.01L199.89 456.01M195.89 462.46L199.89 462.46M200.22 455.36L200.22 462.59M198.22 455.36L202.22 455.36M198.22 462.59L202.22 462.59M202.54 456.45L202.54 461.35M200.54 456.45L204.54 456.45M200.54 461.35L204.54 461.35M204.87 456.23L204.87 461.83M202.87 456.23L206.87 456.23M202.87 461.83L206.87 461.83M207.19 452.42L207.19 458.41M205.19 452.42L209.19 452.42M205.19 458.41L209.19 458.41M209.51 451.77L209.51 457.47M207.51 451.77L211.51 451.77M207.51 457.47L211.51 457.47M211.84 451.86L211.84 457.81M209.84 451.86L213.84 451.86M209.84 457.81L213.84 457.81M214.16 455.72L214.16 461.13M212.16 455.72L216.16 455.72M212.16 461.13L216.16 461.13M216.49 451.73L216.49 457.09M214.49 451.73L218.49 451.73M214.49 457.09L218.49 457.09M218.81 450.41L218.81 457.44M216.81 450.41L220.81 450.41M216.81 457.44L220.81 457.44M221.13 447.87L221.13 455.31M219.13 447.87L223.13 447.87M219.13 455.31L223.13 455.31M223.46 447.39L223.46 453.97M221.46 447.39L225.46 447.39M221.46 453.97L225.46 453.97M225.78 449.54L225.78 455.34M223.78 449.54L227.78 449.54M223.78 455.34L227.78 455.34M228.11 451.2L228.11 456.07M226.11 451.2L230.11 451.2M226.11 456.07L230.11 456.07M230.43 449.41L230.43 456.68M228.43 449.41L232.43 449.41M228.43 456.68L232.43 456.68M232.75 452.68L232.75 459.29M230.75 452.68L234.75 452.68M230.75 459.29L234.75 459.29M235.08 453.63L235.08 460.51M233.08 453.63L237.08 453.63M233.08 460.51L237.08 460.51M237.4 451.42L237.4 457.51M235.4 451.42L239.4 451.42M235.4 457.51L239.4 457.51M239.73 452.63L239.73 459.79M237.73 452.63L241.73 452.63M237.73 459.79L241.73 459.79M242.05 452.29L242.05 457.55M240.05 452.29L244.05 452.29M240.05 457.55L244.05 457.55M244.37 448.74L244.37 456.23M242.37 448.74L246.37 448.74M242.37 456.23L246.37 456.23M246.7 451.11L246.7 457.13M244.7 451.11L248.7 451.11M244.7 457.13L248.7 457.13M249.02 449.41L249.02 454.3M247.02 449.41L251.02 449.41M247.02 454.3L251.02 454.3M251.35 449.28L251.35 455.37M249.35 449.28L253.35 449.28M249.35 455.37L253.35 455.37M253.67 450.73L253.67 456.73M251.67 450.73L255.67 450.73M251.67 456.73L255.67 456.73M255.99 449.66L255.99 456.92M253.99 449.66L257.99 449.66M253.99 456.92L257.99 456.92M258.32 450.23L258.32 456.3M256.32 450.23L260.32 450.23M256.32 456.3L260.32 456.3M260.64 450.13L260.64 456.92M258.64 450.13L262.64 450.13M258.64 456.92L262.64 456.92M262.97 449.61L262.97 455.55M260.97 449.61L264.97 449.61M260.97 455.55L264.97 455.55M265.29 449.96L265.29 455.85M263.29 449.96L267.29 449.96M263.29 455.85L267.29 455.85M267.61 446.45L267.61 453.44M265.61 446.45L269.61 446.45M265.61 453.44L269.61 453.44M269.94 447.49L269.94 454.3M267.94 447.49L271.94 447.49M267.94 454.3L271.94 454.3M272.26 446.07L272.26 453.52M270.26 446.07L274.26 446.07M270.26 453.52L274.26 453.52M274.59 444.73L274.59 452.29M272.59 444.73L276.59 444.73M272.59 452.29L276.59 452.29M276.91 445.66L276.91 451.63M274.91 445.66L278.91 445.66M274.91 451.63L278.91 451.63M279.23 446.63L279.23 453.5M277.23 446.63L281.23 446.63M277.23 453.5L281.23 453.5M281.56 448.55L281.56 453.95M279.56 448.55L283.56 448.55M279.56 453.95L283.56 453.95M283.88 448.1L283.88 454.47M281.88 448.1L285.88 448.1M281.88 454.47L285.88 454.47M286.21 448.86L286.21 455.95M284.21 448.86L288.21 448.86M284.21 455.95L288.21 455.95M288.53 449.29L288.53 455.09M286.53 449.29L290.53 449.29M286.53 455.09L290.53 455.09M290.85 447.84L290.85 453.16M288.85 447.84L292.85 447.84M288.85 453.16L292.85 453.16M293.18 446.94L293.18 453.08M291.18 446.94L295.18 446.94M291.18 453.08L295.18 453.08M295.5 448.92L295.5 456.11M293.5 448.92L297.5 448.92M293.5 456.11L297.5 456.11M297.83 445.53L297.83 452.66M295.83 445.53L299.83 445.53M295.83 452.66L299.83 452.66M300.15 447.8L300.15 453.3M298.15 447.8L302.15 447.8M298.15 453.3L302.15 453.3M302.47 446.1L302.47 451.33M300.47 446.1L304.47 446.1M300.47 451.33L304.47 451.33M304.8 445.85L304.8 452.84M302.8 445.85L306.8 445.85M302.8 452.84L306.8 452.84M307.12 445.17L307.12 451.91M305.12 445.17L309.12 445.17M305.12 451.91L309.12 451.91M309.45 448.05L309.45 453.59M307.45 448.05L311.45 448.05M307.45 453.59L311.45 453.59M311.77 448.68L311.77 453.88M309.77 448.68L313.77 448.68M309.77 453.88L313.77 453.88M314.09 446.67L314.09 453.82M312.09 446.67L316.09 446.67M312.09 453.82L316.09 453.82M316.42 449.54L316.42 455.51M314.42 449.54L318.42 449.54M314.42 455.51L318.42 455.51M318.74 447.42L318.74 453.93M316.74 447.42L320.74 447.42M316.74 453.93L320.74 453.93M321.07 447.96L321.07 454.12M319.07 447.96L323.07 447.96M319.07 454.12L323.07 454.12M323.39 445.18L323.39 452.39M321.39 445.18L325.39 445.18M321.39 452.39L325.39 452.39M325.71 443.7L325.71 449.72M323.71 443.7L327.71 443.7M323.71 449.72L327.71 449.72M328.04 445.11L328.04 451.04M326.04 445.11L330.04 445.11M326.04 451.04L330.04 451.04M330.36 443.13L330.36 450.15M328.36 443.13L332.36 443.13M328.36 450.15L332.36 450.15M332.69 442.31L332.69 449.31M330.69 442.31L334.69 442.31M330.69 449.31L334.69 449.31M335.01 439.9L335.01 445.54M333.01 439.9L337.01 439.9M333.01 445.54L337.01 445.54M337.33 440.52L337.33 447.53M335.33 440.52L339.33 440.52M335.33 447.53L339.33 447.53M339.66 439.54L339.66 446.01M337.66 439.54L341.66 439.54M337.66 446.01L341.66 446.01" stroke="#000" stroke-width="1.1" fill="none"/>
<path d="M39.86 459.27L42.19 459.7L44.51 459.86L46.83 458.85L49.16 457.49L51.48 458.28L53.81 457.64L56.13 459.98L58.45 461.06L60.78 458.88L63.1 459.67L65.43 462.25L67.75 461L70.07 460.89L72.4 460.07L74.72 456.04L77.05 455.28L79.37 458.17L81.69 457.3L84.02 455.73L86.34 457.5L88.67 453.61L90.99 454.97L93.31 453.03L95.64 453.95L97.96 451.78L100.29 453.82L102.61 452.7L104.93 450.15L107.26 451.91L109.58 452.29L111.91 451.19L114.23 450.17L116.55 452.47L118.88 452.45L121.2 456.57L123.53 458.57L125.85 456.13L128.17 454.76L130.5 454.02L132.82 450.08L135.15 447.62L137.47 444.5L139.79 447.18L142.12 448.91L144.44 448.36L146.77 450.64L149.09 449.9L151.41 451.98L153.74 452.66L156.06 453.56L158.39 450.29L160.71 448.74L163.03 450.18L165.36 447.06L167.68 450.38L170.01 451.04L172.33 452.01L174.65 452.4L176.98 451.32L179.3 452.75L181.63 455.38L183.95 455.68L186.27 454.84L188.6 457.08L190.92 458.97L193.25 458.76L195.57 459.35L197.89 459.24L200.22 458.98L202.54 458.9L204.87 459.03L207.19 455.41L209.51 454.62L211.84 454.83L214.16 458.42L216.49 454.41L218.81 453.92L221.13 451.59L223.46 450.68L225.78 452.44L228.11 453.63L230.43 453.04L232.75 455.99L235.08 457.07L237.4 454.47L239.73 456.21L242.05 454.92L244.37 452.48L246.7 454.12L249.02 451.86L251.35 452.33L253.67 453.73L255.99 453.29L258.32 453.26L260.64 453.53L262.97 452.58L265.29 452.9L267.61 449.95L269.94 450.89L272.26 449.8L274.59 448.51L276.91 448.65L279.23 450.06L281.56 451.25L283.88 451.28L286.21 452.41L288.53 452.19L290.85 450.5L293.18 450.01L295.5 452.51L297.83 449.1L300.15 450.55L302.47 448.71L304.8 449.34L307.12 448.54L309.45 450.82L311.77 451.28L314.09 450.25L316.42 452.52L318.74 450.68L321.07 451.04L323.39 448.79L325.71 446.71L328.04 448.08L330.36 446.64L332.69 445.81L335.01 442.72L337.33 444.03L339.66 442.78" stroke="#000" stroke-width="1.0" fill="none"/>
<path d="M38.11 457.52h3.5v3.5h-3.5zM40.44 457.95h3.5v3.5h-3.5zM42.76 458.11h3.5v3.5h-3.5zM45.08 457.1h3.5v3.5h-3.5zM47.41 455.74h3.5v3.5h-3.5zM49.73 456.53h3.5v3.5h-3.5zM52.06 455.89h3.5v3.5h-3.5zM54.38 458.23h3.5v3.5h-3.5zM56.7 459.31h3.5v3.5h-3.5zM59.03 457.13h3.5v3.5h-3.5zM61.35 457.92h3.5v3.5h-3.5zM63.68 460.5h3.5v3.5h-3.5zM66 459.25h3.5v3.5h-3.5zM68.32 459.14h3.5v3.5h-3.5zM70.65 458.32h3.5v3.5h-3.5zM72.97 454.29h3.5v3.5h-3.5zM75.3 453.53h3.5v3.5h-3.5zM77.62 456.42h3.5v3.5h-3.5zM79.94 455.55h3.5v3.5h-3.5zM82.27 453.98h3.5v3.5h-3.5zM84.59 455.75h3.5v3.5h-3.5zM86.92 451.86h3.5v3.5h-3.5zM89.24 453.22h3.5v3.5h-3.5zM91.56 451.28h3.5v3.5h-3.5zM93.89 452.2h3.5v3.5h-3.5zM96.21 450.03h3.5v3.5h-3.5zM98.54 452.07h3.5v3.5h-3.5zM100.86 450.95h3.5v3.5h-3.5zM103.18 448.4h3.5v3.5h-3.5zM105.51 450.16h3.5v3.5h-3.5zM107.83 450.54h3.5v3.5h-3.5zM110.16 449.44h3.5v3.5h-3.5zM112.48 448.42h3.5v3.5h-3.5zM114.8 450.72h3.5v3.5h-3.5zM117.13 450.7h3.5v3.5h-3.5zM119.45 454.82h3.5v3.5h-3.5zM121.78 456.82h3.5v3.5h-3.5zM124.1 454.38h3.5v3.5h-3.5zM126.42 453.01h3.5v3.5h-3.5zM128.75 452.27h3.5v3.5h-3.5zM131.07 448.33h3.5v3.5h-3.5zM133.4 445.87h3.5v3.5h-3.5zM135.72 442.75h3.5v3.5h-3.5zM138.04 445.43h3.5v3.5h-3.5zM140.37 447.16h3.5v3.5h-3.5zM142.69 446.61h3.5v3.5h-3.5zM145.02 448.89h3.5v3.5h-3.5zM147.34 448.15h3.5v3.5h-3.5zM149.66 450.23h3.5v3.5h-3.5zM151.99 450.91h3.5v3.5h-3.5zM154.31 451.81h3.5v3.5h-3.5zM156.64 448.54h3.5v3.5h-3.5zM158.96 446.99h3.5v3.5h-3.5zM161.28 448.43h3.5v3.5h-3.5zM163.61 445.31h3.5v3.5h-3.5zM165.93 448.63h3.5v3.5h-3.5zM168.26 449.29h3.5v3.5h-3.5zM170.58 450.26h3.5v3.5h-3.5zM172.9 450.65h3.5v3.5h-3.5zM175.23 449.57h3.5v3.5h-3.5zM177.55 451h3.5v3.5h-3.5zM179.88 453.63h3.5v3.5h-3.5zM182.2 453.93h3.5v3.5h-3.5zM184.52 453.09h3.5v3.5h-3.5zM186.85 455.33h3.5v3.5h-3.5zM189.17 457.22h3.5v3.5h-3.5zM191.5 457.01h3.5v3.5h-3.5zM193.82 457.6h3.5v3.5h-3.5zM196.14 457.49h3.5v3.5h-3.5zM198.47 457.23h3.5v3.5h-3.5zM200.79 457.15h3.5v3.5h-3.5zM203.12 457.28h3.5v3.5h-3.5zM205.44 453.66h3.5v3.5h-3.5zM207.76 452.87h3.5v3.5h-3.5zM210.09 453.08h3.5v3.5h-3.5zM212.41 456.67h3.5v3.5h-3.5zM214.74 452.66h3.5v3.5h-3.5zM217.06 452.17h3.5v3.5h-3.5zM219.38 449.84h3.5v3.5h-3.5zM221.71 448.93h3.5v3.5h-3.5zM224.03 450.69h3.5v3.5h-3.5zM226.36 451.88h3.5v3.5h-3.5zM228.68 451.29h3.5v3.5h-3.5zM231 454.24h3.5v3.5h-3.5zM233.33 455.32h3.5v3.5h-3.5zM235.65 452.72h3.5v3.5h-3.5zM237.98 454.46h3.5v3.5h-3.5zM240.3 453.17h3.5v3.5h-3.5zM242.62 450.73h3.5v3.5h-3.5zM244.95 452.37h3.5v3.5h-3.5zM247.27 450.11h3.5v3.5h-3.5zM249.6 450.58h3.5v3.5h-3.5zM251.92 451.98h3.5v3.5h-3.5zM254.24 451.54h3.5v3.5h-3.5zM256.57 451.51h3.5v3.5h-3.5zM258.89 451.78h3.5v3.5h-3.5zM261.22 450.83h3.5v3.5h-3.5zM263.54 451.15h3.5v3.5h-3.5zM265.86 448.2h3.5v3.5h-3.5zM268.19 449.14h3.5v3.5h-3.5zM270.51 448.05h3.5v3.5h-3.5zM272.84 446.76h3.5v3.5h-3.5zM275.16 446.9h3.5v3.5h-3.5zM277.48 448.31h3.5v3.5h-3.5zM279.81 449.5h3.5v3.5h-3.5zM282.13 449.53h3.5v3.5h-3.5zM284.46 450.66h3.5v3.5h-3.5zM286.78 450.44h3.5v3.5h-3.5zM289.1 448.75h3.5v3.5h-3.5zM291.43 448.26h3.5v3.5h-3.5zM293.75 450.76h3.5v3.5h-3.5zM296.08 447.35h3.5v3.5h-3.5zM298.4 448.8h3.5v3.5h-3.5zM300.72 446.96h3.5v3.5h-3.5zM303.05 447.59h3.5v3.5h-3.5zM305.37 446.79h3.5v3.5h-3.5zM307.7 449.07h3.5v3.5h-3.5zM310.02 449.53h3.5v3.5h-3.5zM312.34 448.5h3.5v3.5h-3.5zM314.67 450.77h3.5v3.5h-3.5zM316.99 448.93h3.5v3.5h-3.5zM319.32 449.29h3.5v3.5h-3.5zM321.64 447.04h3.5v3.5h-3.5zM323.96 444.96h3.5v3.5h-3.5zM326.29 446.33h3.5v3.5h-3.5zM328.61 444.89h3.5v3.5h-3.5zM330.94 444.06h3.5v3.5h-3.5zM333.26 440.97h3.5v3.5h-3.5zM335.58 442.28h3.5v3.5h-3.5zM337.91 441.03h3.5v3.5h-3.5z" stroke="#000" stroke-width="1.1" fill="#fff"/>
<path d="M39.86 421.26L39.86 435.74M37.86 421.26L41.86 421.26M37.86 435.74L41.86 435.74M42.19 429.12L42.19 441.89M40.19 429.12L44.19 429.12M40.19 441.89L44.19 441.89M44.51 434.52L44.51 447.4M42.51 434.52L46.51 434.52M42.51 447.4L46.51 447.4M46.83 438.35L46.83 452.93M44.83 438.35L48.83 438.35M44.83 452.93L48.83 452.93M49.16 441.64L49.16 452M47.16 441.64L51.16 441.64M47.16 452L51.16 452M51.48 435.65L51.48 448.89M49.48 435.65L53.48 435.65M49.48 448.89L53.48 448.89M53.81 439.79L53.81 450.18M51.81 439.79L55.81 439.79M51.81 450.18L55.81 450.18M56.13 439.39L56.13 451.8M54.13 439.39L58.13 439.39M54.13 451.8L58.13 451.8M58.45 444.62L58.45 455.23M56.45 444.62L60.45 444.62M56.45 455.23L60.45 455.23M60.78 445.63L60.78 456.72M58.78 445.63L62.78 445.63M58.78 456.72L62.78 456.72M63.1 444.55L63.1 456.42M61.1 444.55L65.1 444.55M61.1 456.42L65.1 456.42M65.43 446.01L65.43 459.86M63.43 446.01L67.43 446.01M63.43 459.86L67.43 459.86M67.75 445.47L67.75 460.91M65.75 445.47L69.75 445.47M65.75 460.91L69.75 460.91M70.07 446.67L70.07 460.1M68.07 446.67L72.07 446.67M68.07 460.1L72.07 460.1M72.4 439.45L72.4 454.06M70.4 439.45L74.4 439.45M70.4 454.06L74.4 454.06M74.72 439.53L74.72 451.65M72.72 439.53L76.72 439.53M72.72 451.65L76.72 451.65M77.05 443.26L77.05 454.38M75.05 443.26L79.05 443.26M75.05 454.38L79.05 454.38M79.37 440.24L79.37 451.36M77.37 440.24L81.37 440.24M77.37 451.36L81.37 451.36M81.69 439.58L81.69 452.8M79.69 439.58L83.69 439.58M79.69 452.8L83.69 452.8M84.02 438.92L84.02 450.52M82.02 438.92L86.02 438.92M82.02 450.52L86.02 450.52M86.34 436.3L86.34 448.71M84.34 436.3L88.34 436.3M84.34 448.71L88.34 448.71M88.67 438.15L88.67 449.27M86.67 438.15L90.67 438.15M86.67 449.27L90.67 449.27M90.99 432.62L90.99 447.87M88.99 432.62L92.99 432.62M88.99 447.87L92.99 447.87M93.31 434.43L93.31 449.84M91.31 434.43L95.31 434.43M91.31 449.84L95.31 449.84M95.64 432.43L95.64 443.91M93.64 432.43L97.64 432.43M93.64 443.91L97.64 443.91M97.96 435.9L97.96 450.92M95.96 435.9L99.96 435.9M95.96 450.92L99.96 450.92M100.29 436.57L100.29 445.92M98.29 436.57L102.29 436.57M98.29 445.92L102.29 445.92M102.61 439.21L102.61 448.76M100.61 439.21L104.61 439.21M100.61 448.76L104.61 448.76M104.93 439.6L104.93 448.87M102.93 439.6L106.93 439.6M102.93 448.87L106.93 448.87M107.26 434.11L107.26 443.29M105.26 434.11L109.26 434.11M105.26 443.29L109.26 443.29M109.58 437.99L109.58 445.77M107.58 437.99L111.58 437.99M107.58 445.77L111.58 445.77M111.91 435.86L111.91 444.47M109.91 435.86L113.91 435.86M109.91 444.47L113.91 444.47M114.23 433.44L114.23 442.18M112.23 433.44L116.23 433.44M112.23 442.18L116.23 442.18M116.55 433.01L116.55 442.65M114.55 433.01L118.55 433.01M114.55 442.65L118.55 442.65M118.88 428.98L118.88 436.77M116.88 428.98L120.88 428.98M116.88 436.77L120.88 436.77M121.2 431.2L121.2 437.28M119.2 431.2L123.2 431.2M119.2 437.28L123.2 437.28M123.53 430.63L123.53 437.32M121.53 430.63L125.53 430.63M121.53 437.32L125.53 437.32M125.85 431.4L125.85 439.2M123.85 431.4L127.85 431.4M123.85 439.2L127.85 439.2M128.17 436.2L128.17 441.93M126.17 436.2L130.17 436.2M126.17 441.93L130.17 441.93M130.5 435.53L130.5 441.24M128.5 435.53L132.5 435.53M128.5 441.24L132.5 441.24M132.82 433.24L132.82 441.38M130.82 433.24L134.82 433.24M130.82 441.38L134.82 441.38M135.15 432.44L135.15 438.22M133.15 432.44L137.15 432.44M133.15 438.22L137.15 438.22M137.47 432.04L137.47 439.75M135.47 432.04L139.47 432.04M135.47 439.75L139.47 439.75M139.79 435.09L139.79 442.07M137.79 435.09L141.79 435.09M137.79 442.07L141.79 442.07M142.12 434.01L142.12 440.47M140.12 434.01L144.12 434.01M140.12 440.47L144.12 440.47M144.44 431.96L144.44 439.6M142.44 431.96L146.44 431.96M142.44 439.6L146.44 439.6M146.77 435.09L146.77 441.11M144.77 435.09L148.77 435.09M144.77 441.11L148.77 441.11M149.09 433.92L149.09 439.13M147.09 433.92L151.09 433.92M147.09 439.13L151.09 439.13M151.41 433.92L151.41 441.99M149.41 433.92L153.41 433.92M149.41 441.99L153.41 441.99M153.74 433.37L153.74 439.7M151.74 433.37L155.74 433.37M151.74 439.7L155.74 439.7M156.06 437.2L156.06 443.06M154.06 437.2L158.06 437.2M154.06 443.06L158.06 443.06M158.39 436.92L158.39 442.6M156.39 436.92L160.39 436.92M156.39 442.6L160.39 442.6M160.71 437.91L160.71 443.95M158.71 437.91L162.71 437.91M158.71 443.95L162.71 443.95M163.03 439.06L163.03 445.68M161.03 439.06L165.03 439.06M161.03 445.68L165.03 445.68M165.36 436.29L165.36 443.19M163.36 436.29L167.36 436.29M163.36 443.19L167.36 443.19M167.68 435.26L167.68 442.22M165.68 435.26L169.68 435.26M165.68 442.22L169.68 442.22M170.01 436.35L170.01 443.6M168.01 436.35L172.01 436.35M168.01 443.6L172.01 443.6M172.33 433.33L172.33 441.38M170.33 433.33L174.33 433.33M170.33 441.38L174.33 441.38M174.65 437.49L174.65 444.18M172.65 437.49L176.65 437.49M172.65 444.18L176.65 444.18M176.98 436.52L176.98 441.84M174.98 436.52L178.98 436.52M174.98 441.84L178.98 441.84M179.3 438.72L179.3 444.77M177.3 438.72L181.3 438.72M177.3 444.77L181.3 444.77M181.63 436.59L181.63 443.85M179.63 436.59L183.63 436.59M179.63 443.85L183.63 443.85M183.95 437.53L183.95 443.49M181.95 437.53L185.95 437.53M181.95 443.49L185.95 443.49M186.27 440.33L186.27 446.58M184.27 440.33L188.27 440.33M184.27 446.58L188.27 446.58M188.6 439.38L188.6 447.71M186.6 439.38L190.6 439.38M186.6 447.71L190.6 447.71M190.92 440.61L190.92 448.12M188.92 440.61L192.92 440.61M188.92 448.12L192.92 448.12M193.25 438.18L193.25 446.29M191.25 438.18L195.25 438.18M191.25 446.29L195.25 446.29M195.57 439.32L195.57 444.97M193.57 439.32L197.57 439.32M193.57 444.97L197.57 444.97M197.89 438.64L197.89 446.2M195.89 438.64L199.89 438.64M195.89 446.2L199.89 446.2M200.22 438.18L200.22 446.23M198.22 438.18L202.22 438.18M198.22 446.23L202.22 446.23M202.54 435.95L202.54 441.81M200.54 435.95L204.54 435.95M200.54 441.81L204.54 441.81M204.87 436.9L204.87 444.74M202.87 436.9L206.87 436.9M202.87 444.74L206.87 444.74M207.19 438.22L207.19 444.07M205.19 438.22L209.19 438.22M205.19 444.07L209.19 444.07M209.51 435.68L209.51 443.17M207.51 435.68L211.51 435.68M207.51 443.17L211.51 443.17M211.84 438.56L211.84 445.74M209.84 438.56L213.84 438.56M209.84 445.74L213.84 445.74M214.16 436.58L214.16 444.03M212.16 436.58L216.16 436.58M212.16 444.03L216.16 444.03M216.49 439.49L216.49 445.23M214.49 439.49L218.49 439.49M214.49 445.23L218.49 445.23M218.81 435.51L218.81 442.28M216.81 435.51L220.81 435.51M216.81 442.28L220.81 442.28M221.13 435.77L221.13 443.63M219.13 435.77L223.13 435.77M219.13 443.63L223.13 443.63M223.46 436.46L223.46 443.26M221.46 436.46L225.46 436.46M221.46 443.26L225.46 443.26M225.78 436.04L225.78 443.76M223.78 436.04L227.78 436.04M223.78 443.76L227.78 443.76M228.11 439.61L228.11 445.09M226.11 439.61L230.11 439.61M226.11 445.09L230.11 445.09M230.43 440.62L230.43 447.43M228.43 440.62L232.43 440.62M228.43 447.43L232.43 447.43M232.75 438.83L232.75 446.44M230.75 438.83L234.75 438.83M230.75 446.44L234.75 446.44M235.08 436.23L235.08 444.13M233.08 436.23L237.08 436.23M233.08 444.13L237.08 444.13M237.4 438.42L237.4 445.48M235.4 438.42L239.4 438.42M235.4 445.48L239.4 445.48M239.73 435.44L239.73 441.61M237.73 435.44L241.73 435.44M237.73 441.61L241.73 441.61M242.05 434.48L242.05 440.72M240.05 434.48L244.05 434.48M240.05 440.72L244.05 440.72M244.37 435.77L244.37 443.3M242.37 435.77L246.37 435.77M242.37 443.3L246.37 443.3M246.7 434.54L246.7 442.28M244.7 434.54L248.7 434.54M244.7 442.28L248.7 442.28M249.02 431.7L249.02 437.56M247.02 431.7L251.02 431.7M247.02 437.56L251.02 437.56M251.35 433.72L251.35 440.52M249.35 433.72L253.35 433.72M249.35 440.52L253.35 440.52M253.67 432.11L253.67 439.68M251.67 432.11L255.67 432.11M251.67 439.68L255.67 439.68M255.99 433.4L255.99 439.33M253.99 433.4L257.99 433.4M253.99 439.33L257.99 439.33M258.32 435.13L258.32 442.5M256.32 435.13L260.32 435.13M256.32 442.5L260.32 442.5M260.64 432.96L260.64 439.5M258.64 432.96L262.64 432.96M258.64 439.5L262.64 439.5M262.97 434.53L262.97 441.18M260.97 434.53L264.97 434.53M260.97 441.18L264.97 441.18M265.29 432.89L265.29 440.19M263.29 432.89L267.29 432.89M263.29 440.19L267.29 440.19M267.61 432.17L267.61 439.1M265.61 432.17L269.61 432.17M265.61 439.1L269.61 439.1M269.94 432.09L269.94 439.13M267.94 432.09L271.94 432.09M267.94 439.13L271.94 439.13M272.26 436.14L272.26 443.01M270.26 436.14L274.26 436.14M270.26 443.01L274.26 443.01M274.59 434.8L274.59 442.44M272.59 434.8L276.59 434.8M272.59 442.44L276.59 442.44M276.91 435.77L276.91 442.25M274.91 435.77L278.91 435.77M274.91 442.25L278.91 442.25M279.23 436.79L279.23 442.83M277.23 436.79L281.23 436.79M277.23 442.83L281.23 442.83M281.56 435.68L281.56 443.45M279.56 435.68L283.56 435.68M279.56 443.45L283.56 443.45M283.88 438.13L283.88 445.36M281.88 438.13L285.88 438.13M281.88 445.36L285.88 445.36M286.21 433.9L286.21 441.14M284.21 433.9L288.21 433.9M284.21 441.14L288.21 441.14M288.53 433.27L288.53 438.87M286.53 433.27L290.53 433.27M286.53 438.87L290.53 438.87M290.85 432.56L290.85 438.57M288.85 432.56L292.85 432.56M288.85 438.57L292.85 438.57M293.18 433.03L293.18 439.02M291.18 433.03L295.18 433.03M291.18 439.02L295.18 439.02M295.5 435.31L295.5 441.67M293.5 435.31L297.5 435.31M293.5 441.67L297.5 441.67M297.83 436.04L297.83 443.75M295.83 436.04L299.83 436.04M295.83 443.75L299.83 443.75M300.15 431.67L300.15 439.91M298.15 431.67L302.15 431.67M298.15 439.91L302.15 439.91M302.47 432.59L302.47 440.27M300.47 432.59L304.47 432.59M300.47 440.27L304.47 440.27M304.8 431.9L304.8 439.95M302.8 431.9L306.8 431.9M302.8 439.95L306.8 439.95M307.12 434.93L307.12 442.82M305.12 434.93L309.12 434.93M305.12 442.82L309.12 442.82M309.45 433.69L309.45 441.71M307.45 433.69L311.45 433.69M307.45 441.71L311.45 441.71M311.77 435.55L311.77 440.93M309.77 435.55L313.77 435.55M309.77 440.93L313.77 440.93M314.09 434.94L314.09 442.91M312.09 434.94L316.09 434.94M312.09 442.91L316.09 442.91M316.42 436.02L316.42 443.91M314.42 436.02L318.42 436.02M314.42 443.91L318.42 443.91M318.74 436.46L318.74 443.7M316.74 436.46L320.74 436.46M316.74 443.7L320.74 443.7M321.07 434.61L321.07 442.95M319.07 434.61L323.07 434.61M319.07 442.95L323.07 442.95M323.39 436.83L323.39 444.03M321.39 436.83L325.39 436.83M321.39 444.03L325.39 444.03M325.71 435.78L325.71 443.44M323.71 435.78L327.71 435.78M323.71 443.44L327.71 443.44M328.04 437.72L328.04 443.86M326.04 437.72L330.04 437.72M326.04 443.86L330.04 443.86M330.36 435.09L330.36 443.41M328.36 435.09L332.36 435.09M328.36 443.41L332.36 443.41M332.69 434.66L332.69 441.73M330.69 434.66L334.69 434.66M330.69 441.73L334.69 441.73M335.01 437.04L335.01 443.99M333.01 437.04L337.01 437.04M333.01 443.99L337.01 443.99M337.33 435.46L337.33 442.6M335.33 435.46L339.33 435.46M335.33 442.6L339.33 442.6M339.66 431.41L339.66 438.62M337.66 431.41L341.66 431.41M337.66 438.62L341.66 438.62" stroke="#000" stroke-width="1.2" fill="none"/>
<path d="M39.86 428.5L42.19 435.5L44.51 440.96L46.83 445.64L49.16 446.82L51.48 442.27L53.81 444.99L56.13 445.6L58.45 449.93L60.78 451.18L63.1 450.48L65.43 452.94L67.75 453.19L70.07 453.39L72.4 446.75L74.72 445.59L77.05 448.82L79.37 445.8L81.69 446.19L84.02 444.72L86.34 442.51L88.67 443.71L90.99 440.24L93.31 442.14L95.64 438.17L97.96 443.41L100.29 441.24L102.61 443.99L104.93 444.23L107.26 438.7L109.58 441.88L111.91 440.16L114.23 437.81L116.55 437.83L118.88 432.88L121.2 434.24L123.53 433.97L125.85 435.3L128.17 439.07L130.5 438.39L132.82 437.31L135.15 435.33L137.47 435.89L139.79 438.58L142.12 437.24L144.44 435.78L146.77 438.1L149.09 436.53L151.41 437.96L153.74 436.54L156.06 440.13L158.39 439.76L160.71 440.93L163.03 442.37L165.36 439.74L167.68 438.74L170.01 439.97L172.33 437.36L174.65 440.84L176.98 439.18L179.3 441.74L181.63 440.22L183.95 440.51L186.27 443.45L188.6 443.55L190.92 444.37L193.25 442.23L195.57 442.15L197.89 442.42L200.22 442.2L202.54 438.88L204.87 440.82L207.19 441.14L209.51 439.43L211.84 442.15L214.16 440.3L216.49 442.36L218.81 438.89L221.13 439.7L223.46 439.86L225.78 439.9L228.11 442.35L230.43 444.02L232.75 442.64L235.08 440.18L237.4 441.95L239.73 438.53L242.05 437.6L244.37 439.53L246.7 438.41L249.02 434.63L251.35 437.12L253.67 435.9L255.99 436.36L258.32 438.82L260.64 436.23L262.97 437.85L265.29 436.54L267.61 435.64L269.94 435.61L272.26 439.57L274.59 438.62L276.91 439.01L279.23 439.81L281.56 439.57L283.88 441.74L286.21 437.52L288.53 436.07L290.85 435.56L293.18 436.02L295.5 438.49L297.83 439.89L300.15 435.79L302.47 436.43L304.8 435.93L307.12 438.87L309.45 437.7L311.77 438.24L314.09 438.92L316.42 439.97L318.74 440.08L321.07 438.78L323.39 440.43L325.71 439.61L328.04 440.79L330.36 439.25L332.69 438.2L335.01 440.51L337.33 439.03L339.66 435.02" stroke="#000" stroke-width="1.6" fill="none"/>
<path d="M37.76 426.4h4.2v4.2h-4.2zM40.09 433.4h4.2v4.2h-4.2zM42.41 438.86h4.2v4.2h-4.2zM44.73 443.54h4.2v4.2h-4.2zM47.06 444.72h4.2v4.2h-4.2zM49.38 440.17h4.2v4.2h-4.2zM51.71 442.89h4.2v4.2h-4.2zM54.03 443.5h4.2v4.2h-4.2zM56.35 447.83h4.2v4.2h-4.2zM58.68 449.08h4.2v4.2h-4.2zM61 448.38h4.2v4.2h-4.2zM63.33 450.84h4.2v4.2h-4.2zM65.65 451.09h4.2v4.2h-4.2zM67.97 451.29h4.2v4.2h-4.2zM70.3 444.65h4.2v4.2h-4.2zM72.62 443.49h4.2v4.2h-4.2zM74.95 446.72h4.2v4.2h-4.2zM77.27 443.7h4.2v4.2h-4.2zM79.59 444.09h4.2v4.2h-4.2zM81.92 442.62h4.2v4.2h-4.2zM84.24 440.41h4.2v4.2h-4.2zM86.57 441.61h4.2v4.2h-4.2zM88.89 438.14h4.2v4.2h-4.2zM91.21 440.04h4.2v4.2h-4.2zM93.54 436.07h4.2v4.2h-4.2zM95.86 441.31h4.2v4.2h-4.2zM98.19 439.14h4.2v4.2h-4.2zM100.51 441.89h4.2v4.2h-4.2zM102.83 442.13h4.2v4.2h-4.2zM105.16 436.6h4.2v4.2h-4.2zM107.48 439.78h4.2v4.2h-4.2zM109.81 438.06h4.2v4.2h-4.2zM112.13 435.71h4.2v4.2h-4.2zM114.45 435.73h4.2v4.2h-4.2zM116.78 430.78h4.2v4.2h-4.2zM119.1 432.14h4.2v4.2h-4.2zM121.43 431.87h4.2v4.2h-4.2zM123.75 433.2h4.2v4.2h-4.2zM126.07 436.97h4.2v4.2h-4.2zM128.4 436.29h4.2v4.2h-4.2zM130.72 435.21h4.2v4.2h-4.2zM133.05 433.23h4.2v4.2h-4.2zM135.37 433.79h4.2v4.2h-4.2zM137.69 436.48h4.2v4.2h-4.2zM140.02 435.14h4.2v4.2h-4.2zM142.34 433.68h4.2v4.2h-4.2zM144.67 436h4.2v4.2h-4.2zM146.99 434.43h4.2v4.2h-4.2zM149.31 435.86h4.2v4.2h-4.2zM151.64 434.44h4.2v4.2h-4.2zM153.96 438.03h4.2v4.2h-4.2zM156.29 437.66h4.2v4.2h-4.2zM158.61 438.83h4.2v4.2h-4.2zM160.93 440.27h4.2v4.2h-4.2zM163.26 437.64h4.2v4.2h-4.2zM165.58 436.64h4.2v4.2h-4.2zM167.91 437.87h4.2v4.2h-4.2zM170.23 435.26h4.2v4.2h-4.2zM172.55 438.74h4.2v4.2h-4.2zM174.88 437.08h4.2v4.2h-4.2zM177.2 439.64h4.2v4.2h-4.2zM179.53 438.12h4.2v4.2h-4.2zM181.85 438.41h4.2v4.2h-4.2zM184.17 441.35h4.2v4.2h-4.2zM186.5 441.45h4.2v4.2h-4.2zM188.82 442.27h4.2v4.2h-4.2zM191.15 440.13h4.2v4.2h-4.2zM193.47 440.05h4.2v4.2h-4.2zM195.79 440.32h4.2v4.2h-4.2zM198.12 440.1h4.2v4.2h-4.2zM200.44 436.78h4.2v4.2h-4.2zM202.77 438.72h4.2v4.2h-4.2zM205.09 439.04h4.2v4.2h-4.2zM207.41 437.33h4.2v4.2h-4.2zM209.74 440.05h4.2v4.2h-4.2zM212.06 438.2h4.2v4.2h-4.2zM214.39 440.26h4.2v4.2h-4.2zM216.71 436.79h4.2v4.2h-4.2zM219.03 437.6h4.2v4.2h-4.2zM221.36 437.76h4.2v4.2h-4.2zM223.68 437.8h4.2v4.2h-4.2zM226.01 440.25h4.2v4.2h-4.2zM228.33 441.92h4.2v4.2h-4.2zM230.65 440.54h4.2v4.2h-4.2zM232.98 438.08h4.2v4.2h-4.2zM235.3 439.85h4.2v4.2h-4.2zM237.63 436.43h4.2v4.2h-4.2zM239.95 435.5h4.2v4.2h-4.2zM242.27 437.43h4.2v4.2h-4.2zM244.6 436.31h4.2v4.2h-4.2zM246.92 432.53h4.2v4.2h-4.2zM249.25 435.02h4.2v4.2h-4.2zM251.57 433.8h4.2v4.2h-4.2zM253.89 434.26h4.2v4.2h-4.2zM256.22 436.72h4.2v4.2h-4.2zM258.54 434.13h4.2v4.2h-4.2zM260.87 435.75h4.2v4.2h-4.2zM263.19 434.44h4.2v4.2h-4.2zM265.51 433.54h4.2v4.2h-4.2zM267.84 433.51h4.2v4.2h-4.2zM270.16 437.47h4.2v4.2h-4.2zM272.49 436.52h4.2v4.2h-4.2zM274.81 436.91h4.2v4.2h-4.2zM277.13 437.71h4.2v4.2h-4.2zM279.46 437.47h4.2v4.2h-4.2zM281.78 439.64h4.2v4.2h-4.2zM284.11 435.42h4.2v4.2h-4.2zM286.43 433.97h4.2v4.2h-4.2zM288.75 433.46h4.2v4.2h-4.2zM291.08 433.92h4.2v4.2h-4.2zM293.4 436.39h4.2v4.2h-4.2zM295.73 437.79h4.2v4.2h-4.2zM298.05 433.69h4.2v4.2h-4.2zM300.37 434.33h4.2v4.2h-4.2zM302.7 433.83h4.2v4.2h-4.2zM305.02 436.77h4.2v4.2h-4.2zM307.35 435.6h4.2v4.2h-4.2zM309.67 436.14h4.2v4.2h-4.2zM311.99 436.82h4.2v4.2h-4.2zM314.32 437.87h4.2v4.2h-4.2zM316.64 437.98h4.2v4.2h-4.2zM318.97 436.68h4.2v4.2h-4.2zM321.29 438.33h4.2v4.2h-4.2zM323.61 437.51h4.2v4.2h-4.2zM325.94 438.69h4.2v4.2h-4.2zM328.26 437.15h4.2v4.2h-4.2zM330.59 436.1h4.2v4.2h-4.2zM332.91 438.41h4.2v4.2h-4.2zM335.23 436.93h4.2v4.2h-4.2zM337.56 432.92h4.2v4.2h-4.2z" stroke="#000" stroke-width="0.6" fill="#000"/>
</g>
<path d="M404 383L404 509.8L518.8 509.8L518.8 512.8" stroke="#8a8a8a" stroke-width="1.0" fill="none"/>
<path d="M401 509.8L404 509.8" stroke="#8a8a8a" stroke-width="1.0" fill="none"/>
<text x="0" y="0" font-size="10.3" text-anchor="end" transform="translate(396.7 513.7) rotate(0) scale(1.02 1.0)">0.5</text>
<path d="M401 491.85L404 491.85" stroke="#8a8a8a" stroke-width="1.0" fill="none"/>
<text x="0" y="0" font-size="10.3" text-anchor="end" transform="translate(396.7 495.75) rotate(0) scale(1.02 1.0)">0.6</text>
<path d="M401 473.9L404 473.9" stroke="#8a8a8a" stroke-width="1.0" fill="none"/>
<text x="0" y="0" font-size="10.3" text-anchor="end" transform="translate(396.7 477.8) rotate(0) scale(1.02 1.0)">0.7</text>
<path d="M401 455.95L404 455.95" stroke="#8a8a8a" stroke-width="1.0" fill="none"/>
<text x="0" y="0" font-size="10.3" text-anchor="end" transform="translate(396.7 459.85) rotate(0) scale(1.02 1.0)">0.8</text>
<path d="M401 438L404 438" stroke="#8a8a8a" stroke-width="1.0" fill="none"/>
<text x="0" y="0" font-size="10.3" text-anchor="end" transform="translate(396.7 441.9) rotate(0) scale(1.02 1.0)">0.9</text>
<path d="M401 420.05L404 420.05" stroke="#8a8a8a" stroke-width="1.0" fill="none"/>
<text x="0" y="0" font-size="10.3" text-anchor="end" transform="translate(396.7 423.95) rotate(0) scale(1.02 1.0)">1.0</text>
<path d="M401 402.1L404 402.1" stroke="#8a8a8a" stroke-width="1.0" fill="none"/>
<text x="0" y="0" font-size="10.3" text-anchor="end" transform="translate(396.7 406) rotate(0) scale(1.02 1.0)">1.1</text>
<path d="M401 384.15L404 384.15" stroke="#8a8a8a" stroke-width="1.0" fill="none"/>
<text x="0" y="0" font-size="10.3" text-anchor="end" transform="translate(396.7 388.05) rotate(0) scale(1.02 1.0)">1.2</text>
<path d="M462.5 509.8L462.5 512.8" stroke="#8a8a8a" stroke-width="1.0" fill="none"/>
<rect x="414.4" y="432.5" width="13.1" height="76.9" fill="#fff" stroke="#000" stroke-width="1.1"/>
<path d="M421 432.5L421 428.4M418.5 428.4L423.5 428.4" stroke="#000" stroke-width="1.2" fill="none"/>
<rect x="427.5" y="453.2" width="12.5" height="56.2" fill="url(#h2)" stroke="#000" stroke-width="1.1"/>
<path d="M433.8 453.2L433.8 451.7M431.3 451.7L436.3 451.7" stroke="#000" stroke-width="1" fill="none"/>
<rect x="440" y="442.6" width="13" height="66.8" fill="#000" stroke="#000" stroke-width="1.1"/>
<path d="M446.5 442.6L446.5 440.7M444 440.7L449 440.7" stroke="#000" stroke-width="1.2" fill="none"/>
<rect x="472.2" y="418.2" width="12.6" height="91.2" fill="#fff" stroke="#000" stroke-width="1.1"/>
<path d="M478.5 418.2L478.5 414M476 414L481 414" stroke="#000" stroke-width="1.2" fill="none"/>
<rect x="484.8" y="452.4" width="12.5" height="57" fill="url(#h2)" stroke="#000" stroke-width="1.1"/>
<path d="M491 452.4L491 450.5M488.5 450.5L493.5 450.5" stroke="#000" stroke-width="1" fill="none"/>
<rect x="497.3" y="438.2" width="12.7" height="71.2" fill="#000" stroke="#000" stroke-width="1.1"/>
<path d="M503.6 438.2L503.6 436.5M501.1 436.5L506.1 436.5" stroke="#000" stroke-width="1.2" fill="none"/>
<path d="M421.3 423.8L421.3 415L432.5 415L432.5 451" stroke="#000" stroke-width="1.2" fill="none"/>
<path d="M436.8 451L436.8 422.5L447 422.5L447 436" stroke="#000" stroke-width="1.2" fill="none"/>
<path d="M478.2 411.4L478.2 404L490.5 404L490.5 449.6" stroke="#000" stroke-width="1.2" fill="none"/>
<path d="M493.8 449.6L493.8 422.3L504 422.3L504 433.2" stroke="#000" stroke-width="1.2" fill="none"/>
<text x="427" y="411.6" font-size="11" text-anchor="middle">††</text>
<text x="442" y="423.5" font-size="14.5" text-anchor="middle">**</text>
<text x="484.8" y="397.8" font-size="11" text-anchor="middle">††</text>
<text x="498.7" y="423.4" font-size="14.5" text-anchor="middle">**</text>
<text x="433.2" y="525.3" font-size="9" text-anchor="middle">11:30-19:30</text>
<text x="490" y="525.3" font-size="9.3" text-anchor="middle">19:40-7:30</text>
<text x="0" y="0" font-size="11.6" text-anchor="middle" transform="translate(371.8 447.9) rotate(-90) scale(1.0 1.06)">RER</text>
<rect x="120.3" y="554.7" width="8.7" height="8.5" fill="#fff" stroke="#000" stroke-width="1.2"/>
<text x="133.2" y="563.6" font-size="10.5" text-anchor="start">Control</text>
<rect x="192.2" y="554.7" width="8.5" height="8.5" fill="url(#h4)" stroke="#000" stroke-width="1.2"/>
<text x="204.6" y="563.6" font-size="10.5" text-anchor="start">HF/HS</text>
<rect x="254.6" y="553.8" width="10" height="9.8" fill="#000"/>
<text x="270" y="563.6" font-size="10.5" text-anchor="start">HF/HS+EPA</text>
<path d="M100 581.5L125 581.5" stroke="#000" stroke-width="1.4" fill="none" stroke-dasharray="1.3 1.5"/>
<circle cx="112.7" cy="581.5" r="2.5" fill="#fff" stroke="#000" stroke-width="1.3"/>
<text x="128.2" y="586.1" font-size="10.5" text-anchor="start">Control</text>
<path d="M183 581.5L208.2 581.5" stroke="#000" stroke-width="1.8" fill="none"/>
<rect x="192.7" y="578.9" width="5.4" height="5.2" fill="#fff" stroke="#000" stroke-width="1.3"/>
<text x="211.2" y="586.1" font-size="10.5" text-anchor="start">HF/HS</text>
<path d="M259.5 581.5L285.5 581.5" stroke="#000" stroke-width="2.0" fill="none"/>
<rect x="269.2" y="578.4" width="6.6" height="6.2" fill="#000"/>
<text x="287" y="586.1" font-size="10.5" text-anchor="start">HF/HS+EPA</text>
</svg></body></html>
